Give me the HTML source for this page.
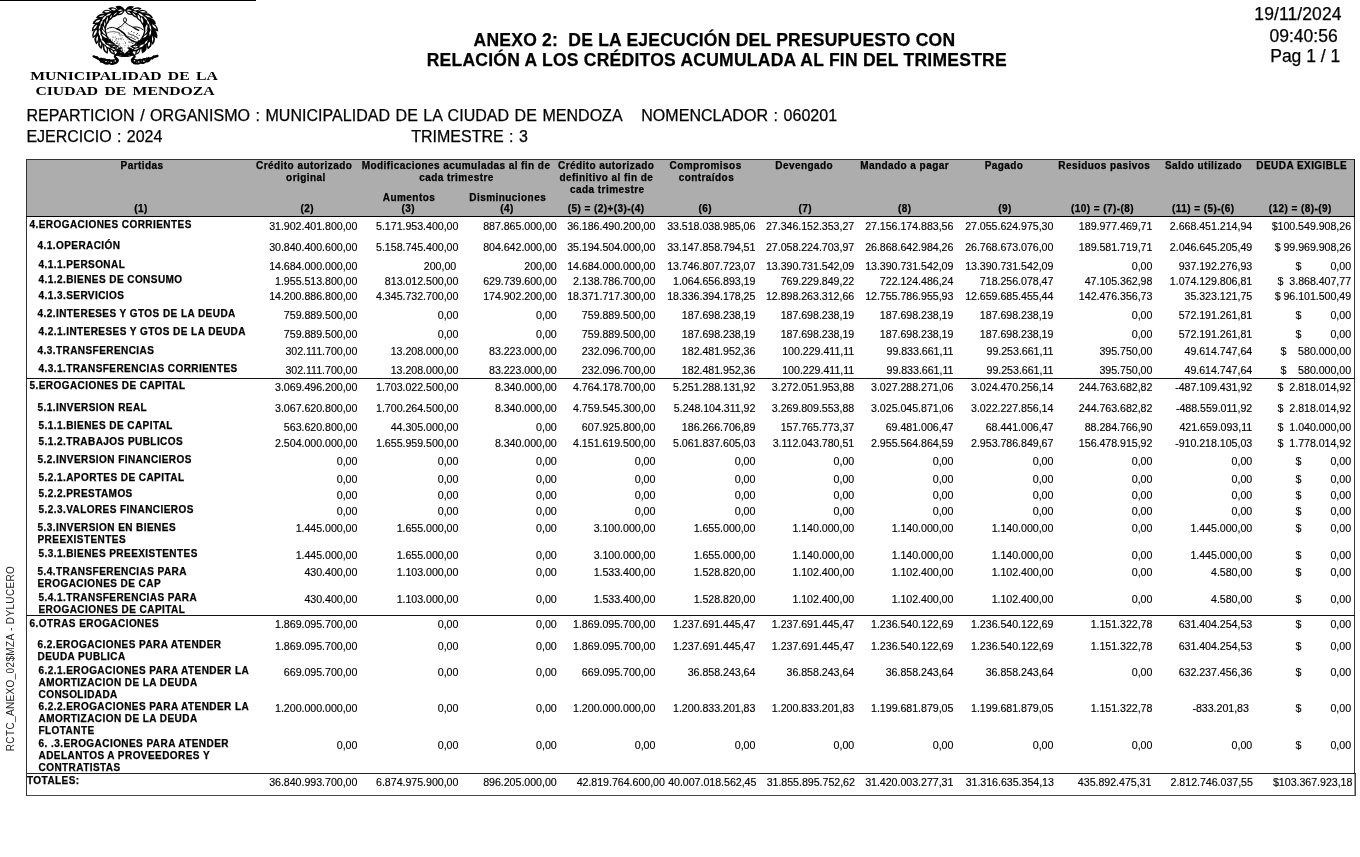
<!DOCTYPE html>
<html><head><meta charset="utf-8"><title>Anexo 2</title>
<style>
html,body{margin:0;padding:0;background:#fff;}
body{width:1360px;height:857px;position:relative;overflow:hidden;font-family:"Liberation Sans",sans-serif;color:#000;}
.t{position:absolute;white-space:pre;font-family:"Liberation Sans",sans-serif;font-weight:400;-webkit-text-stroke:0.25px #000;}
.b{font-weight:700;}
.s{font-family:"Liberation Serif",serif;}
.ln{position:absolute;background:#111;}
#pg{position:absolute;left:0;top:0;width:1360px;height:857px;will-change:transform;filter:grayscale(1);}
</style></head><body><div id="pg">
<div class="ln" style="left:0;top:0;width:256px;height:1px;background:#000"></div>
<div style="position:absolute;left:27px;top:160px;width:1327px;height:56px;background:#adadad"></div>
<div style="position:absolute;left:26px;top:159px;width:1329px;height:615px;border:1px solid #333;box-sizing:border-box;border-right-color:#3a3a3a"></div>
<div style="position:absolute;left:26px;top:773px;width:1330px;height:23px;border:1px solid #484848;border-top-color:#222;border-left-color:#333;box-sizing:border-box"></div>
<div style="position:absolute;left:1354px;top:774px;width:1px;height:21px;background:#999"></div>
<div style="position:absolute;left:1354px;top:159px;width:1px;height:58px;background:#111"></div>
<div class="ln" style="left:26px;top:216px;width:1329px;height:1px;background:#000"></div>
<div class="ln" style="left:26px;top:378px;width:1329px;height:1px"></div>
<div class="ln" style="left:26px;top:615px;width:1329px;height:1px"></div>
<div class="t" style="left:-90px;top:652px;width:200px;height:13px;line-height:13px;font-size:10px;letter-spacing:0.35px;-webkit-text-stroke:0;text-align:center;transform:rotate(-90deg);color:#222">RCTC_ANEXO_02$MZA - DYLUCERO</div>
<svg style="position:absolute;left:85px;top:0px" width="80" height="70" viewBox="85 0 80 70">
<path transform="translate(130.11 48.74) rotate(20.6)" d="M-3.27 0 Q0 -2.81 3.27 0 Q0 2.81 -3.27 0Z" fill="#000"/>
<path transform="translate(130.56 50.67) rotate(-9.5)" d="M-3.28 0 Q0 -2.78 3.28 0 Q0 2.78 -3.28 0Z" fill="#000"/>
<path transform="translate(131.00 52.60) rotate(-39.0)" d="M-3.08 0 Q0 -2.78 3.08 0 Q0 2.78 -3.08 0Z" fill="#000"/>
<path transform="translate(135.28 46.48) rotate(1.1)" d="M-5.20 0 Q0 -3.82 5.20 0 Q0 3.82 -5.20 0Z" fill="#000"/>
<path transform="translate(136.53 48.91) rotate(-21.1)" d="M-5.38 0 Q0 -4.28 5.38 0 Q0 4.28 -5.38 0Z" fill="#000"/>
<path transform="translate(137.78 51.34) rotate(-53.0)" d="M-4.61 0 Q0 -3.76 4.61 0 Q0 3.76 -4.61 0Z" fill="#000"/>
<path transform="translate(139.48 43.42) rotate(-12.2)" d="M-5.55 0 Q0 -4.56 5.55 0 Q0 4.56 -5.55 0Z" fill="#000"/>
<path transform="translate(141.78 46.02) rotate(-33.0)" d="M-5.94 0 Q0 -4.92 5.94 0 Q0 4.92 -5.94 0Z" fill="#000"/>
<path transform="translate(144.08 48.62) rotate(-66.9)" d="M-5.25 0 Q0 -4.92 5.25 0 Q0 4.92 -5.25 0Z" fill="#000"/>
<path transform="translate(142.84 40.05) rotate(-27.3)" d="M-5.99 0 Q0 -4.32 5.99 0 Q0 4.32 -5.99 0Z" fill="#000"/>
<path transform="translate(145.98 42.17) rotate(-51.1)" d="M-5.53 0 Q0 -5.26 5.53 0 Q0 5.26 -5.53 0Z" fill="#000"/>
<path transform="translate(149.11 44.30) rotate(-76.7)" d="M-5.36 0 Q0 -5.24 5.36 0 Q0 5.24 -5.36 0Z" fill="#000"/>
<path transform="translate(145.09 36.24) rotate(-40.4)" d="M-5.32 0 Q0 -5.00 5.32 0 Q0 5.00 -5.32 0Z" fill="#000"/>
<path transform="translate(148.87 37.61) rotate(-68.5)" d="M-5.62 0 Q0 -4.66 5.62 0 Q0 4.66 -5.62 0Z" fill="#000"/>
<path transform="translate(152.65 38.99) rotate(-91.2)" d="M-6.10 0 Q0 -4.75 6.10 0 Q0 4.75 -6.10 0Z" fill="#000"/>
<path transform="translate(146.17 32.22) rotate(-59.9)" d="M-6.40 0 Q0 -4.71 6.40 0 Q0 4.71 -6.40 0Z" fill="#000"/>
<path transform="translate(150.28 32.62) rotate(-81.8)" d="M-5.89 0 Q0 -4.74 5.89 0 Q0 4.74 -5.89 0Z" fill="#000"/>
<path transform="translate(154.38 33.03) rotate(-117.2)" d="M-6.24 0 Q0 -4.68 6.24 0 Q0 4.68 -6.24 0Z" fill="#000"/>
<path transform="translate(146.09 28.12) rotate(-78.4)" d="M-6.14 0 Q0 -4.71 6.14 0 Q0 4.71 -6.14 0Z" fill="#000"/>
<path transform="translate(150.11 27.51) rotate(-105.4)" d="M-5.87 0 Q0 -4.88 5.87 0 Q0 4.88 -5.87 0Z" fill="#000"/>
<path transform="translate(154.12 26.90) rotate(-133.2)" d="M-6.15 0 Q0 -5.06 6.15 0 Q0 5.06 -6.15 0Z" fill="#000"/>
<path transform="translate(144.83 24.08) rotate(-94.3)" d="M-6.04 0 Q0 -4.94 6.04 0 Q0 4.94 -6.04 0Z" fill="#000"/>
<path transform="translate(148.38 22.58) rotate(-120.5)" d="M-5.25 0 Q0 -4.37 5.25 0 Q0 4.37 -5.25 0Z" fill="#000"/>
<path transform="translate(151.93 21.08) rotate(-143.0)" d="M-5.16 0 Q0 -4.70 5.16 0 Q0 4.70 -5.16 0Z" fill="#000"/>
<path transform="translate(142.37 20.29) rotate(-106.3)" d="M-5.60 0 Q0 -4.83 5.60 0 Q0 4.83 -5.60 0Z" fill="#000"/>
<path transform="translate(145.20 18.15) rotate(-131.7)" d="M-5.96 0 Q0 -4.20 5.96 0 Q0 4.20 -5.96 0Z" fill="#000"/>
<path transform="translate(148.02 16.01) rotate(-158.5)" d="M-5.47 0 Q0 -4.87 5.47 0 Q0 4.87 -5.47 0Z" fill="#000"/>
<path transform="translate(138.79 16.95) rotate(-116.9)" d="M-5.36 0 Q0 -4.76 5.36 0 Q0 4.76 -5.36 0Z" fill="#000"/>
<path transform="translate(140.75 14.49) rotate(-146.0)" d="M-5.02 0 Q0 -4.48 5.02 0 Q0 4.48 -5.02 0Z" fill="#000"/>
<path transform="translate(142.72 12.02) rotate(-176.4)" d="M-5.03 0 Q0 -4.62 5.03 0 Q0 4.62 -5.03 0Z" fill="#000"/>
<path transform="translate(134.20 14.31) rotate(-137.3)" d="M-4.99 0 Q0 -4.14 4.99 0 Q0 4.14 -4.99 0Z" fill="#000"/>
<path transform="translate(135.32 11.82) rotate(-157.9)" d="M-4.37 0 Q0 -3.99 4.37 0 Q0 3.99 -4.37 0Z" fill="#000"/>
<path transform="translate(136.45 9.33) rotate(-188.1)" d="M-5.30 0 Q0 -4.01 5.30 0 Q0 4.01 -5.30 0Z" fill="#000"/>
<path transform="translate(128.84 12.59) rotate(-148.1)" d="M-4.50 0 Q0 -3.96 4.50 0 Q0 3.96 -4.50 0Z" fill="#000"/>
<path transform="translate(129.25 10.31) rotate(-175.9)" d="M-5.07 0 Q0 -3.73 5.07 0 Q0 3.73 -5.07 0Z" fill="#000"/>
<path transform="translate(129.65 8.04) rotate(-197.9)" d="M-4.61 0 Q0 -3.76 4.61 0 Q0 3.76 -4.61 0Z" fill="#000"/>
<path d="M130.6 50.7 Q121.8 54.4 128.3 55.8" stroke="#000" stroke-width="1.6" fill="none"/>
<path transform="translate(119.49 48.74) rotate(-201.1)" d="M-3.27 0 Q0 -2.54 3.27 0 Q0 2.54 -3.27 0Z" fill="#000"/>
<path transform="translate(119.04 50.67) rotate(-167.0)" d="M-3.57 0 Q0 -2.52 3.57 0 Q0 2.52 -3.57 0Z" fill="#000"/>
<path transform="translate(118.60 52.60) rotate(-136.0)" d="M-3.35 0 Q0 -2.67 3.35 0 Q0 2.67 -3.35 0Z" fill="#000"/>
<path transform="translate(114.32 46.48) rotate(-184.0)" d="M-4.37 0 Q0 -3.85 4.37 0 Q0 3.85 -4.37 0Z" fill="#000"/>
<path transform="translate(113.07 48.91) rotate(-155.9)" d="M-5.02 0 Q0 -4.11 5.02 0 Q0 4.11 -5.02 0Z" fill="#000"/>
<path transform="translate(111.82 51.34) rotate(-133.3)" d="M-4.86 0 Q0 -3.89 4.86 0 Q0 3.89 -4.86 0Z" fill="#000"/>
<path transform="translate(110.12 43.42) rotate(-169.1)" d="M-5.59 0 Q0 -4.62 5.59 0 Q0 4.62 -5.59 0Z" fill="#000"/>
<path transform="translate(107.82 46.02) rotate(-148.9)" d="M-5.87 0 Q0 -4.81 5.87 0 Q0 4.81 -5.87 0Z" fill="#000"/>
<path transform="translate(105.52 48.62) rotate(-109.2)" d="M-5.81 0 Q0 -4.88 5.81 0 Q0 4.88 -5.81 0Z" fill="#000"/>
<path transform="translate(106.76 40.05) rotate(-159.6)" d="M-5.74 0 Q0 -5.00 5.74 0 Q0 5.00 -5.74 0Z" fill="#000"/>
<path transform="translate(103.62 42.17) rotate(-129.7)" d="M-6.15 0 Q0 -5.25 6.15 0 Q0 5.25 -6.15 0Z" fill="#000"/>
<path transform="translate(100.49 44.30) rotate(-99.6)" d="M-5.06 0 Q0 -4.74 5.06 0 Q0 4.74 -5.06 0Z" fill="#000"/>
<path transform="translate(104.51 36.24) rotate(-142.2)" d="M-6.09 0 Q0 -4.62 6.09 0 Q0 4.62 -6.09 0Z" fill="#000"/>
<path transform="translate(100.73 37.61) rotate(-108.9)" d="M-6.14 0 Q0 -5.13 6.14 0 Q0 5.13 -6.14 0Z" fill="#000"/>
<path transform="translate(96.95 38.99) rotate(-82.6)" d="M-5.46 0 Q0 -5.17 5.46 0 Q0 5.17 -5.46 0Z" fill="#000"/>
<path transform="translate(103.43 32.22) rotate(-126.5)" d="M-6.22 0 Q0 -5.40 6.22 0 Q0 5.40 -6.22 0Z" fill="#000"/>
<path transform="translate(99.32 32.62) rotate(-95.7)" d="M-5.83 0 Q0 -5.00 5.83 0 Q0 5.00 -5.83 0Z" fill="#000"/>
<path transform="translate(95.22 33.03) rotate(-64.7)" d="M-5.86 0 Q0 -4.99 5.86 0 Q0 4.99 -5.86 0Z" fill="#000"/>
<path transform="translate(103.51 28.12) rotate(-109.8)" d="M-5.45 0 Q0 -4.93 5.45 0 Q0 4.93 -5.45 0Z" fill="#000"/>
<path transform="translate(99.49 27.51) rotate(-74.2)" d="M-5.36 0 Q0 -5.08 5.36 0 Q0 5.08 -5.36 0Z" fill="#000"/>
<path transform="translate(95.48 26.90) rotate(-51.0)" d="M-5.98 0 Q0 -4.78 5.98 0 Q0 4.78 -5.98 0Z" fill="#000"/>
<path transform="translate(104.77 24.08) rotate(-87.9)" d="M-5.30 0 Q0 -4.54 5.30 0 Q0 4.54 -5.30 0Z" fill="#000"/>
<path transform="translate(101.22 22.58) rotate(-60.6)" d="M-5.25 0 Q0 -4.96 5.25 0 Q0 4.96 -5.25 0Z" fill="#000"/>
<path transform="translate(97.67 21.08) rotate(-27.5)" d="M-5.90 0 Q0 -5.13 5.90 0 Q0 5.13 -5.90 0Z" fill="#000"/>
<path transform="translate(107.23 20.29) rotate(-75.8)" d="M-5.87 0 Q0 -4.31 5.87 0 Q0 4.31 -5.87 0Z" fill="#000"/>
<path transform="translate(104.40 18.15) rotate(-47.9)" d="M-5.75 0 Q0 -4.30 5.75 0 Q0 4.30 -5.75 0Z" fill="#000"/>
<path transform="translate(101.58 16.01) rotate(-16.6)" d="M-5.96 0 Q0 -4.29 5.96 0 Q0 4.29 -5.96 0Z" fill="#000"/>
<path transform="translate(110.81 16.95) rotate(-58.0)" d="M-4.71 0 Q0 -4.00 4.71 0 Q0 4.00 -4.71 0Z" fill="#000"/>
<path transform="translate(108.85 14.49) rotate(-27.5)" d="M-5.54 0 Q0 -4.84 5.54 0 Q0 4.84 -5.54 0Z" fill="#000"/>
<path transform="translate(106.88 12.02) rotate(-2.5)" d="M-4.96 0 Q0 -4.38 4.96 0 Q0 4.38 -4.96 0Z" fill="#000"/>
<path transform="translate(115.40 14.31) rotate(-43.1)" d="M-4.55 0 Q0 -4.12 4.55 0 Q0 4.12 -4.55 0Z" fill="#000"/>
<path transform="translate(114.28 11.82) rotate(-17.5)" d="M-5.30 0 Q0 -4.41 5.30 0 Q0 4.41 -5.30 0Z" fill="#000"/>
<path transform="translate(113.15 9.33) rotate(11.3)" d="M-5.02 0 Q0 -4.08 5.02 0 Q0 4.08 -5.02 0Z" fill="#000"/>
<path transform="translate(120.76 12.59) rotate(-30.3)" d="M-4.86 0 Q0 -4.12 4.86 0 Q0 4.12 -4.86 0Z" fill="#000"/>
<path transform="translate(120.35 10.31) rotate(-5.4)" d="M-4.88 0 Q0 -3.83 4.88 0 Q0 3.83 -4.88 0Z" fill="#000"/>
<path transform="translate(119.95 8.04) rotate(18.7)" d="M-4.76 0 Q0 -4.00 4.76 0 Q0 4.00 -4.76 0Z" fill="#000"/>
<path d="M119.0 50.7 Q127.8 54.4 121.3 55.8" stroke="#000" stroke-width="1.6" fill="none"/>
<path transform="translate(135.47 46.60) rotate(1.1)" d="M-2.63 0 Q0 -1.60 2.63 0 Q0 1.60 -2.63 0Z" fill="#fff"/>
<path transform="translate(136.24 48.93) rotate(-21.1)" d="M-2.73 0 Q0 -1.38 2.73 0 Q0 1.38 -2.73 0Z" fill="#fff"/>
<path transform="translate(137.99 51.35) rotate(-53.0)" d="M-2.72 0 Q0 -1.35 2.72 0 Q0 1.35 -2.72 0Z" fill="#fff"/>
<path transform="translate(141.62 45.89) rotate(-33.0)" d="M-3.03 0 Q0 -1.93 3.03 0 Q0 1.93 -3.03 0Z" fill="#fff"/>
<path transform="translate(146.06 42.34) rotate(-51.1)" d="M-2.97 0 Q0 -1.63 2.97 0 Q0 1.63 -2.97 0Z" fill="#fff"/>
<path transform="translate(148.96 44.06) rotate(-76.7)" d="M-2.73 0 Q0 -2.07 2.73 0 Q0 2.07 -2.73 0Z" fill="#fff"/>
<path transform="translate(145.23 36.02) rotate(-40.4)" d="M-3.14 0 Q0 -1.57 3.14 0 Q0 1.57 -3.14 0Z" fill="#fff"/>
<path transform="translate(152.59 39.20) rotate(-91.2)" d="M-3.60 0 Q0 -1.48 3.60 0 Q0 1.48 -3.60 0Z" fill="#fff"/>
<path transform="translate(146.07 32.10) rotate(-59.9)" d="M-3.26 0 Q0 -1.46 3.26 0 Q0 1.46 -3.26 0Z" fill="#fff"/>
<path transform="translate(150.25 32.90) rotate(-81.8)" d="M-3.34 0 Q0 -1.75 3.34 0 Q0 1.75 -3.34 0Z" fill="#fff"/>
<path transform="translate(146.36 27.93) rotate(-78.4)" d="M-3.89 0 Q0 -1.91 3.89 0 Q0 1.91 -3.89 0Z" fill="#fff"/>
<path transform="translate(150.39 27.35) rotate(-105.4)" d="M-3.51 0 Q0 -1.62 3.51 0 Q0 1.62 -3.51 0Z" fill="#fff"/>
<path transform="translate(154.26 26.64) rotate(-133.2)" d="M-3.27 0 Q0 -1.86 3.27 0 Q0 1.86 -3.27 0Z" fill="#fff"/>
<path transform="translate(148.12 22.39) rotate(-120.5)" d="M-2.89 0 Q0 -1.61 2.89 0 Q0 1.61 -2.89 0Z" fill="#fff"/>
<path transform="translate(142.09 20.01) rotate(-106.3)" d="M-3.51 0 Q0 -1.85 3.51 0 Q0 1.85 -3.51 0Z" fill="#fff"/>
<path transform="translate(145.33 18.04) rotate(-131.7)" d="M-3.81 0 Q0 -1.30 3.81 0 Q0 1.30 -3.81 0Z" fill="#fff"/>
<path transform="translate(148.14 16.18) rotate(-158.5)" d="M-3.43 0 Q0 -1.67 3.43 0 Q0 1.67 -3.43 0Z" fill="#fff"/>
<path transform="translate(138.96 17.17) rotate(-116.9)" d="M-3.11 0 Q0 -1.79 3.11 0 Q0 1.79 -3.11 0Z" fill="#fff"/>
<path transform="translate(140.84 14.78) rotate(-146.0)" d="M-3.13 0 Q0 -1.74 3.13 0 Q0 1.74 -3.13 0Z" fill="#fff"/>
<path transform="translate(142.92 11.78) rotate(-176.4)" d="M-3.04 0 Q0 -1.40 3.04 0 Q0 1.40 -3.04 0Z" fill="#fff"/>
<path transform="translate(134.20 14.38) rotate(-137.3)" d="M-3.14 0 Q0 -1.37 3.14 0 Q0 1.37 -3.14 0Z" fill="#fff"/>
<path transform="translate(135.13 12.06) rotate(-157.9)" d="M-2.59 0 Q0 -1.41 2.59 0 Q0 1.41 -2.59 0Z" fill="#fff"/>
<path transform="translate(136.40 9.52) rotate(-188.1)" d="M-3.33 0 Q0 -1.63 3.33 0 Q0 1.63 -3.33 0Z" fill="#fff"/>
<path transform="translate(128.84 12.79) rotate(-148.1)" d="M-2.78 0 Q0 -1.53 2.78 0 Q0 1.53 -2.78 0Z" fill="#fff"/>
<path transform="translate(129.11 10.14) rotate(-175.9)" d="M-2.83 0 Q0 -1.40 2.83 0 Q0 1.40 -2.83 0Z" fill="#fff"/>
<path transform="translate(114.52 46.33) rotate(-184.0)" d="M-2.27 0 Q0 -1.18 2.27 0 Q0 1.18 -2.27 0Z" fill="#fff"/>
<path transform="translate(113.25 49.19) rotate(-155.9)" d="M-2.99 0 Q0 -1.33 2.99 0 Q0 1.33 -2.99 0Z" fill="#fff"/>
<path transform="translate(111.95 51.14) rotate(-133.3)" d="M-2.61 0 Q0 -1.33 2.61 0 Q0 1.33 -2.61 0Z" fill="#fff"/>
<path transform="translate(110.06 43.59) rotate(-169.1)" d="M-3.51 0 Q0 -1.44 3.51 0 Q0 1.44 -3.51 0Z" fill="#fff"/>
<path transform="translate(107.90 46.26) rotate(-148.9)" d="M-3.24 0 Q0 -1.77 3.24 0 Q0 1.77 -3.24 0Z" fill="#fff"/>
<path transform="translate(105.61 48.44) rotate(-109.2)" d="M-3.49 0 Q0 -1.94 3.49 0 Q0 1.94 -3.49 0Z" fill="#fff"/>
<path transform="translate(103.51 42.42) rotate(-129.7)" d="M-3.81 0 Q0 -1.80 3.81 0 Q0 1.80 -3.81 0Z" fill="#fff"/>
<path transform="translate(100.48 44.02) rotate(-99.6)" d="M-3.10 0 Q0 -1.46 3.10 0 Q0 1.46 -3.10 0Z" fill="#fff"/>
<path transform="translate(104.30 36.03) rotate(-142.2)" d="M-3.49 0 Q0 -1.79 3.49 0 Q0 1.79 -3.49 0Z" fill="#fff"/>
<path transform="translate(101.00 37.37) rotate(-108.9)" d="M-3.26 0 Q0 -1.86 3.26 0 Q0 1.86 -3.26 0Z" fill="#fff"/>
<path transform="translate(97.15 39.02) rotate(-82.6)" d="M-2.97 0 Q0 -1.79 2.97 0 Q0 1.79 -2.97 0Z" fill="#fff"/>
<path transform="translate(103.71 32.23) rotate(-126.5)" d="M-3.61 0 Q0 -1.75 3.61 0 Q0 1.75 -3.61 0Z" fill="#fff"/>
<path transform="translate(99.61 32.63) rotate(-95.7)" d="M-3.24 0 Q0 -1.98 3.24 0 Q0 1.98 -3.24 0Z" fill="#fff"/>
<path transform="translate(95.24 32.98) rotate(-64.7)" d="M-3.72 0 Q0 -2.05 3.72 0 Q0 2.05 -3.72 0Z" fill="#fff"/>
<path transform="translate(103.69 28.36) rotate(-109.8)" d="M-3.09 0 Q0 -1.67 3.09 0 Q0 1.67 -3.09 0Z" fill="#fff"/>
<path transform="translate(99.66 27.22) rotate(-74.2)" d="M-2.82 0 Q0 -1.66 2.82 0 Q0 1.66 -2.82 0Z" fill="#fff"/>
<path transform="translate(95.24 27.04) rotate(-51.0)" d="M-3.09 0 Q0 -1.73 3.09 0 Q0 1.73 -3.09 0Z" fill="#fff"/>
<path transform="translate(104.69 24.03) rotate(-87.9)" d="M-3.04 0 Q0 -1.45 3.04 0 Q0 1.45 -3.04 0Z" fill="#fff"/>
<path transform="translate(101.43 22.65) rotate(-60.6)" d="M-3.25 0 Q0 -1.63 3.25 0 Q0 1.63 -3.25 0Z" fill="#fff"/>
<path transform="translate(97.56 21.34) rotate(-27.5)" d="M-3.13 0 Q0 -2.16 3.13 0 Q0 2.16 -3.13 0Z" fill="#fff"/>
<path transform="translate(107.09 20.05) rotate(-75.8)" d="M-3.62 0 Q0 -1.51 3.62 0 Q0 1.51 -3.62 0Z" fill="#fff"/>
<path transform="translate(104.11 17.97) rotate(-47.9)" d="M-3.43 0 Q0 -1.76 3.43 0 Q0 1.76 -3.43 0Z" fill="#fff"/>
<path transform="translate(101.58 16.12) rotate(-16.6)" d="M-3.14 0 Q0 -1.32 3.14 0 Q0 1.32 -3.14 0Z" fill="#fff"/>
<path transform="translate(110.85 16.74) rotate(-58.0)" d="M-2.48 0 Q0 -1.30 2.48 0 Q0 1.30 -2.48 0Z" fill="#fff"/>
<path transform="translate(108.58 14.76) rotate(-27.5)" d="M-3.13 0 Q0 -1.90 3.13 0 Q0 1.90 -3.13 0Z" fill="#fff"/>
<path transform="translate(106.95 11.73) rotate(-2.5)" d="M-2.97 0 Q0 -1.76 2.97 0 Q0 1.76 -2.97 0Z" fill="#fff"/>
<path transform="translate(115.22 14.11) rotate(-43.1)" d="M-2.60 0 Q0 -1.24 2.60 0 Q0 1.24 -2.60 0Z" fill="#fff"/>
<path transform="translate(113.44 9.52) rotate(11.3)" d="M-2.69 0 Q0 -1.67 2.69 0 Q0 1.67 -2.69 0Z" fill="#fff"/>
<path transform="translate(120.99 12.82) rotate(-30.3)" d="M-2.90 0 Q0 -1.61 2.90 0 Q0 1.61 -2.90 0Z" fill="#fff"/>
<path transform="translate(120.26 10.29) rotate(-5.4)" d="M-2.45 0 Q0 -1.31 2.45 0 Q0 1.31 -2.45 0Z" fill="#fff"/>

<g fill="none" stroke="#000" stroke-linecap="round" stroke-linejoin="round">
<ellipse cx="125" cy="19.9" rx="1.5" ry="2.2" stroke-width="0.95"/>
<path d="M125 22.3 Q122.5 26 116.8 28.8 Q114.5 27.6 112.5 27.4 Q109.5 27.2 107 29" stroke-width="0.95"/>
<path d="M125 22.3 Q128 25.2 133.2 27.3 Q135 26.8 137 27 Q140.5 27.6 143 29.6" stroke-width="0.95"/>
<path d="M116.8 28.8 Q119 29.5 121.5 31.5 Q124.5 33.2 126.5 36.8 Q129.5 39.5 133 41.2 Q136 42.8 138.5 42" stroke-width="1.5"/>
<path d="M133.2 27.3 Q135.3 29 138.8 30.4" stroke-width="1.2"/>
<path d="M127.5 36.2 Q131 37.2 135.5 39.6 M129 34 Q133 35 137.5 37.6" stroke-width="0.7"/>
<path d="M106 33.5 Q110 31.2 114 31.6 Q117.5 32 120 33.2" stroke-width="0.7" stroke="#333"/>
<path d="M109 41 Q111.3 42.6 112.2 45.2 M114.3 44 L115.6 48 M118 46.2 L119 50 M122 48 L122.5 51" stroke-width="0.8" stroke="#222"/>
</g>

<circle cx="119.8" cy="35.0" r="0.51" fill="#333"/><circle cx="113.6" cy="37.1" r="0.42" fill="#333"/><circle cx="138.4" cy="40.5" r="0.52" fill="#333"/><circle cx="138.0" cy="41.7" r="0.54" fill="#333"/><circle cx="124.4" cy="47.5" r="0.32" fill="#333"/><circle cx="128.3" cy="46.8" r="0.33" fill="#333"/><circle cx="124.7" cy="51.0" r="0.48" fill="#333"/><circle cx="108.1" cy="40.0" r="0.48" fill="#333"/><circle cx="138.4" cy="40.2" r="0.56" fill="#333"/><circle cx="136.5" cy="44.4" r="0.54" fill="#333"/><circle cx="140.5" cy="43.5" r="0.35" fill="#333"/><circle cx="117.9" cy="41.3" r="0.46" fill="#333"/><circle cx="121.7" cy="38.8" r="0.60" fill="#333"/><circle cx="114.0" cy="44.3" r="0.49" fill="#333"/><circle cx="118.8" cy="44.9" r="0.51" fill="#333"/><circle cx="116.4" cy="38.3" r="0.53" fill="#333"/><circle cx="124.2" cy="41.7" r="0.38" fill="#333"/><circle cx="131.3" cy="41.7" r="0.54" fill="#333"/><circle cx="112.4" cy="47.1" r="0.54" fill="#333"/><circle cx="140.9" cy="43.9" r="0.60" fill="#333"/><circle cx="139.3" cy="45.2" r="0.44" fill="#333"/><circle cx="108.2" cy="42.0" r="0.38" fill="#333"/><circle cx="108.5" cy="38.9" r="0.53" fill="#333"/><circle cx="108.3" cy="42.6" r="0.56" fill="#333"/><circle cx="120.2" cy="38.2" r="0.50" fill="#333"/><circle cx="117.4" cy="41.9" r="0.32" fill="#333"/><circle cx="118.9" cy="39.8" r="0.44" fill="#333"/><circle cx="119.1" cy="34.0" r="0.38" fill="#333"/><circle cx="115.2" cy="37.0" r="0.55" fill="#333"/><circle cx="108.1" cy="38.4" r="0.60" fill="#333"/><circle cx="124.0" cy="35.2" r="0.34" fill="#333"/><circle cx="136.6" cy="34.4" r="0.50" fill="#333"/><circle cx="119.2" cy="44.9" r="0.52" fill="#333"/><circle cx="112.8" cy="37.1" r="0.50" fill="#333"/><circle cx="125.0" cy="35.7" r="0.38" fill="#333"/><circle cx="140.9" cy="39.2" r="0.58" fill="#333"/><circle cx="128.9" cy="41.2" r="0.39" fill="#333"/><circle cx="112.8" cy="44.4" r="0.33" fill="#333"/><circle cx="120.4" cy="39.7" r="0.33" fill="#333"/><circle cx="119.2" cy="33.2" r="0.50" fill="#333"/><circle cx="116.6" cy="45.9" r="0.37" fill="#333"/><circle cx="116.7" cy="48.4" r="0.57" fill="#333"/><circle cx="130.1" cy="42.2" r="0.56" fill="#333"/><circle cx="114.2" cy="33.7" r="0.37" fill="#333"/><circle cx="117.1" cy="43.1" r="0.56" fill="#333"/><circle cx="115.5" cy="47.0" r="0.62" fill="#333"/><circle cx="119.1" cy="47.8" r="0.54" fill="#333"/><circle cx="134.6" cy="37.1" r="0.42" fill="#333"/><circle cx="137.8" cy="46.4" r="0.33" fill="#333"/><circle cx="135.9" cy="44.6" r="0.46" fill="#333"/><circle cx="121.1" cy="35.0" r="0.55" fill="#333"/><circle cx="131.8" cy="42.8" r="0.51" fill="#333"/><circle cx="133.0" cy="43.5" r="0.53" fill="#333"/><circle cx="121.7" cy="35.0" r="0.35" fill="#333"/><circle cx="115.7" cy="47.8" r="0.42" fill="#333"/><circle cx="135.4" cy="46.7" r="0.48" fill="#333"/><circle cx="139.2" cy="35.3" r="0.59" fill="#333"/><circle cx="110.7" cy="44.2" r="0.40" fill="#333"/><circle cx="120.4" cy="46.8" r="0.60" fill="#333"/><circle cx="131.5" cy="37.1" r="0.42" fill="#333"/><circle cx="118.0" cy="45.5" r="0.43" fill="#333"/><circle cx="119.1" cy="43.7" r="0.48" fill="#333"/><circle cx="128.4" cy="32.8" r="0.57" fill="#333"/><circle cx="118.2" cy="38.7" r="0.54" fill="#333"/><circle cx="131.4" cy="36.5" r="0.31" fill="#333"/><circle cx="112.3" cy="39.7" r="0.48" fill="#333"/><circle cx="138.2" cy="38.6" r="0.56" fill="#333"/><circle cx="136.4" cy="43.7" r="0.55" fill="#333"/><circle cx="129.0" cy="42.1" r="0.54" fill="#333"/><circle cx="128.8" cy="38.6" r="0.50" fill="#333"/><circle cx="133.9" cy="48.0" r="0.51" fill="#333"/><circle cx="125.0" cy="45.7" r="0.54" fill="#333"/><circle cx="110.1" cy="39.2" r="0.43" fill="#333"/><circle cx="116.0" cy="49.7" r="0.52" fill="#333"/><circle cx="112.3" cy="40.8" r="0.53" fill="#333"/><circle cx="111.7" cy="45.8" r="0.51" fill="#333"/><circle cx="134.0" cy="32.6" r="0.57" fill="#333"/><circle cx="137.5" cy="33.6" r="0.50" fill="#333"/><circle cx="110.6" cy="39.1" r="0.56" fill="#333"/><circle cx="115.1" cy="43.9" r="0.35" fill="#333"/><circle cx="119.9" cy="43.7" r="0.37" fill="#333"/><circle cx="116.6" cy="43.2" r="0.61" fill="#333"/><circle cx="133.6" cy="42.7" r="0.34" fill="#333"/><circle cx="115.8" cy="32.7" r="0.36" fill="#333"/><circle cx="135.4" cy="43.3" r="0.49" fill="#333"/><circle cx="127.5" cy="39.4" r="0.33" fill="#333"/><circle cx="128.0" cy="45.2" r="0.38" fill="#333"/><circle cx="122.1" cy="32.2" r="0.37" fill="#333"/><circle cx="128.4" cy="45.9" r="0.36" fill="#333"/><circle cx="125.2" cy="34.4" r="0.48" fill="#333"/><circle cx="129.6" cy="33.6" r="0.38" fill="#333"/><circle cx="137.2" cy="33.7" r="0.41" fill="#333"/><circle cx="108.9" cy="37.3" r="0.45" fill="#333"/><circle cx="125.5" cy="42.9" r="0.60" fill="#333"/><circle cx="128.1" cy="34.0" r="0.47" fill="#333"/><circle cx="115.9" cy="39.9" r="0.62" fill="#333"/><circle cx="120.3" cy="36.0" r="0.30" fill="#333"/><circle cx="114.6" cy="41.6" r="0.55" fill="#333"/><circle cx="121.8" cy="32.2" r="0.35" fill="#333"/><circle cx="130.1" cy="45.7" r="0.38" fill="#333"/><circle cx="133.1" cy="34.7" r="0.50" fill="#333"/><circle cx="133.6" cy="40.3" r="0.47" fill="#333"/><circle cx="133.5" cy="48.3" r="0.30" fill="#333"/><circle cx="131.6" cy="31.4" r="0.56" fill="#333"/><circle cx="132.5" cy="43.3" r="0.53" fill="#333"/><circle cx="134.5" cy="44.9" r="0.45" fill="#333"/><circle cx="137.3" cy="38.2" r="0.57" fill="#333"/><circle cx="119.8" cy="49.7" r="0.43" fill="#333"/><circle cx="129.2" cy="38.8" r="0.56" fill="#333"/><circle cx="128.0" cy="48.3" r="0.47" fill="#333"/><circle cx="133.3" cy="48.9" r="0.40" fill="#333"/><circle cx="123.1" cy="43.3" r="0.40" fill="#333"/><circle cx="110.7" cy="42.4" r="0.42" fill="#333"/><circle cx="122.7" cy="37.2" r="0.43" fill="#333"/><circle cx="108.6" cy="43.1" r="0.57" fill="#333"/><circle cx="123.7" cy="39.5" r="0.42" fill="#333"/><circle cx="122.7" cy="35.3" r="0.48" fill="#333"/><circle cx="125.3" cy="24.1" r="0.35" fill="#666"/><circle cx="133.9" cy="28.8" r="0.35" fill="#666"/><circle cx="121.3" cy="27.7" r="0.35" fill="#666"/><circle cx="122.6" cy="26.3" r="0.35" fill="#666"/><circle cx="126.6" cy="25.8" r="0.35" fill="#666"/><circle cx="123.4" cy="26.4" r="0.35" fill="#666"/><circle cx="128.7" cy="25.5" r="0.35" fill="#666"/><circle cx="121.2" cy="28.4" r="0.35" fill="#666"/><circle cx="123.3" cy="29.7" r="0.35" fill="#666"/><circle cx="127.0" cy="28.3" r="0.35" fill="#666"/><circle cx="123.3" cy="29.0" r="0.35" fill="#666"/><circle cx="119.5" cy="24.8" r="0.35" fill="#666"/><circle cx="119.5" cy="28.1" r="0.35" fill="#666"/><circle cx="129.3" cy="25.1" r="0.35" fill="#666"/>

<g fill="none" stroke="#000" stroke-linecap="round" stroke-linejoin="round">
<path d="M124.7 55.6 Q120.5 52.8 116.6 54.4 Q113.2 56.6 116.6 58.4 Q119.2 60.8 116 62.8 Q112.5 64.6 109.4 63 Q106.5 64.2 103.8 62.4 Q101.5 60.4 99.3 59.2 Q96.5 57.4 93.6 56.4" stroke-width="2.4"/>
<path d="M124.7 55.6 Q129 52.8 132.9 54.4 Q136.3 56.6 132.9 58.4 Q130.6 60.8 133.8 62.8 Q137.3 64.2 140.4 62.4 Q143.3 63.4 146 61.4 Q148.3 58.8 151.3 58.2 Q154.3 56.4 157.4 56" stroke-width="2.4"/>
<path d="M101 58.6 Q103 60 105 59.4 Q107 60.6 109 60 Q111 61.2 113.5 60.4" stroke-width="2.2"/>
<path d="M148.6 58 Q146.6 59.6 144.6 59 Q142.6 60.4 140.4 59.8 Q138.4 61 136 60.2" stroke-width="2.2"/>
<path d="M103 58.4 L100.8 62 M106.8 59.6 L105.8 63.4 M111 60.4 L111.4 64 M146.6 58 L148.6 61.4 M142.6 59.4 L143 63 M138.2 60 L137.8 63.6 M97 56.6 L98.5 59.4 M153.5 56 L152.5 59" stroke-width="1.3"/>
<path d="M117 54.9 Q121 57 124.7 55.9 Q128.5 57 132.5 54.9" stroke-width="1.5"/>
</g>
<g fill="none" stroke="#fff" stroke-linecap="round">
<path d="M116.2 56.4 Q117.2 57.5 118.6 57.8 M133.2 56.4 Q132.2 57.5 130.9 57.8 M110.5 62.4 Q112.5 63.2 114.6 62.2 M135.4 62.2 Q137.4 63 139.4 62 M103.6 60.8 L104.8 61.4 M145.2 60.4 L146 60 M107.6 61.6 L108.6 62 M141 61.2 L141.8 61" stroke-width="0.7"/>
</g>
<g fill="#000">
<ellipse cx="101.5" cy="60.6" rx="2.6" ry="2.0" transform="rotate(35 101.5 60.6)"/>
<ellipse cx="106.2" cy="61.8" rx="2.4" ry="2.0" transform="rotate(20 106.2 61.8)"/>
<ellipse cx="111" cy="62.2" rx="2.6" ry="2.1"/>
<ellipse cx="115.5" cy="61.2" rx="2.4" ry="2.2" transform="rotate(-30 115.5 61.2)"/>
<ellipse cx="148.2" cy="60.2" rx="2.6" ry="1.9" transform="rotate(-35 148.2 60.2)"/>
<ellipse cx="143.6" cy="61.4" rx="2.4" ry="1.9" transform="rotate(-20 143.6 61.4)"/>
<ellipse cx="138.8" cy="61.8" rx="2.6" ry="2.0"/>
<ellipse cx="134.3" cy="61" rx="2.3" ry="2.1" transform="rotate(30 134.3 61)"/>
</g>
<g fill="#fff">
<ellipse cx="106" cy="61.6" rx="0.9" ry="0.6"/><ellipse cx="111.2" cy="62.3" rx="1.0" ry="0.6"/><ellipse cx="115.3" cy="61" rx="0.8" ry="0.7"/>
<ellipse cx="143.8" cy="61.2" rx="0.9" ry="0.6"/><ellipse cx="138.6" cy="61.9" rx="1.0" ry="0.6"/><ellipse cx="134.5" cy="60.8" rx="0.8" ry="0.7"/>
</g>
<rect x="123.3" y="54.3" width="2.8" height="2.6" fill="#000"/>

</svg>
<div class="t b" style="top:30px;font-size:17.5px;line-height:21px;left:473.60px;letter-spacing:0.232px;">ANEXO 2:  DE LA EJECUCIÓN DEL PRESUPUESTO CON</div>
<div class="t b" style="top:50px;font-size:17.5px;line-height:21px;left:426.70px;letter-spacing:0.255px;">RELACIÓN A LOS CRÉDITOS ACUMULADA AL FIN DEL TRIMESTRE</div>
<div class="t" style="top:4px;font-size:17.5px;line-height:21px;right:18.40px;letter-spacing:0.1px;">19/11/2024</div>
<div class="t" style="top:26px;font-size:17.5px;line-height:21px;right:22.27px;letter-spacing:0.025px;">09:40:56</div>
<div class="t" style="top:46px;font-size:17.5px;line-height:21px;right:19.81px;letter-spacing:-0.008px;">Pag 1 / 1</div>
<div class="t" style="top:106px;font-size:16px;line-height:19px;left:26.40px;letter-spacing:0.036px;word-spacing:1.0px;">REPARTICION / ORGANISMO : MUNICIPALIDAD DE LA CIUDAD DE MENDOZA</div>
<div class="t" style="top:106px;font-size:16px;line-height:19px;left:641.20px;letter-spacing:0.054px;word-spacing:1.0px;">NOMENCLADOR : 060201</div>
<div class="t" style="top:127px;font-size:16px;line-height:19px;left:26.40px;letter-spacing:-0.019px;word-spacing:1.0px;">EJERCICIO : 2024</div>
<div class="t" style="top:127px;font-size:16px;line-height:19px;left:411.30px;letter-spacing:-0.016px;word-spacing:1.0px;">TRIMESTRE : 3</div>
<div class="t b s" style="top:68px;font-size:13.2px;line-height:16px;left:-75.70px;width:400px;text-align:center;word-spacing:2px;transform:scaleX(1.19);-webkit-text-stroke:0;">MUNICIPALIDAD DE LA</div>
<div class="t b s" style="top:83px;font-size:13.2px;line-height:16px;left:-75.20px;width:400px;text-align:center;word-spacing:2px;transform:scaleX(1.19);-webkit-text-stroke:0;">CIUDAD DE MENDOZA</div>
<div class="t b" style="top:160px;font-size:10.0px;line-height:12px;left:-57.98px;width:400px;text-align:center;letter-spacing:0.44px;">Partidas</div>
<div class="t b" style="top:203px;font-size:10.0px;line-height:12px;left:-58.98px;width:400px;text-align:center;letter-spacing:0.44px;">(1)</div>
<div class="t b" style="top:160px;font-size:10.0px;line-height:12px;left:104.22px;width:400px;text-align:center;letter-spacing:0.44px;">Crédito autorizado</div>
<div class="t b" style="top:172px;font-size:10.0px;line-height:12px;left:105.92px;width:400px;text-align:center;letter-spacing:0.44px;">original</div>
<div class="t b" style="top:203px;font-size:10.0px;line-height:12px;left:107.22px;width:400px;text-align:center;letter-spacing:0.44px;">(2)</div>
<div class="t b" style="top:160px;font-size:10.0px;line-height:12px;left:256.02px;width:400px;text-align:center;letter-spacing:0.44px;">Modificaciones acumuladas al fin de</div>
<div class="t b" style="top:172px;font-size:10.0px;line-height:12px;left:256.52px;width:400px;text-align:center;letter-spacing:0.44px;">cada trimestre</div>
<div class="t b" style="top:192px;font-size:10.0px;line-height:12px;left:209.02px;width:400px;text-align:center;letter-spacing:0.44px;">Aumentos</div>
<div class="t b" style="top:203px;font-size:10.0px;line-height:12px;left:208.22px;width:400px;text-align:center;letter-spacing:0.44px;">(3)</div>
<div class="t b" style="top:192px;font-size:10.0px;line-height:12px;left:307.72px;width:400px;text-align:center;letter-spacing:0.44px;">Disminuciones</div>
<div class="t b" style="top:203px;font-size:10.0px;line-height:12px;left:307.02px;width:400px;text-align:center;letter-spacing:0.44px;">(4)</div>
<div class="t b" style="top:160px;font-size:10.0px;line-height:12px;left:406.12px;width:400px;text-align:center;letter-spacing:0.44px;">Crédito autorizado</div>
<div class="t b" style="top:172px;font-size:10.0px;line-height:12px;left:406.32px;width:400px;text-align:center;letter-spacing:0.44px;">definitivo al fin de</div>
<div class="t b" style="top:184px;font-size:10.0px;line-height:12px;left:407.32px;width:400px;text-align:center;letter-spacing:0.44px;">cada trimestre</div>
<div class="t b" style="top:203px;font-size:10.0px;line-height:12px;left:406.12px;width:400px;text-align:center;letter-spacing:0.44px;">(5) = (2)+(3)-(4)</div>
<div class="t b" style="top:160px;font-size:10.0px;line-height:12px;left:505.62px;width:400px;text-align:center;letter-spacing:0.44px;">Compromisos</div>
<div class="t b" style="top:172px;font-size:10.0px;line-height:12px;left:506.42px;width:400px;text-align:center;letter-spacing:0.44px;">contraídos</div>
<div class="t b" style="top:203px;font-size:10.0px;line-height:12px;left:505.22px;width:400px;text-align:center;letter-spacing:0.44px;">(6)</div>
<div class="t b" style="top:160px;font-size:10.0px;line-height:12px;left:604.22px;width:400px;text-align:center;letter-spacing:0.44px;">Devengado</div>
<div class="t b" style="top:203px;font-size:10.0px;line-height:12px;left:605.22px;width:400px;text-align:center;letter-spacing:0.44px;">(7)</div>
<div class="t b" style="top:160px;font-size:10.0px;line-height:12px;left:704.62px;width:400px;text-align:center;letter-spacing:0.44px;">Mandado a pagar</div>
<div class="t b" style="top:203px;font-size:10.0px;line-height:12px;left:704.72px;width:400px;text-align:center;letter-spacing:0.44px;">(8)</div>
<div class="t b" style="top:160px;font-size:10.0px;line-height:12px;left:804.02px;width:400px;text-align:center;letter-spacing:0.44px;">Pagado</div>
<div class="t b" style="top:203px;font-size:10.0px;line-height:12px;left:805.02px;width:400px;text-align:center;letter-spacing:0.44px;">(9)</div>
<div class="t b" style="top:160px;font-size:10.0px;line-height:12px;left:904.32px;width:400px;text-align:center;letter-spacing:0.44px;">Residuos pasivos</div>
<div class="t b" style="top:203px;font-size:10.0px;line-height:12px;left:902.52px;width:400px;text-align:center;letter-spacing:0.44px;">(10) = (7)-(8)</div>
<div class="t b" style="top:160px;font-size:10.0px;line-height:12px;left:1003.52px;width:400px;text-align:center;letter-spacing:0.44px;">Saldo utilizado</div>
<div class="t b" style="top:203px;font-size:10.0px;line-height:12px;left:1003.22px;width:400px;text-align:center;letter-spacing:0.44px;">(11) = (5)-(6)</div>
<div class="t b" style="top:160px;font-size:10.0px;line-height:12px;left:1101.72px;width:400px;text-align:center;letter-spacing:0.44px;">DEUDA EXIGIBLE</div>
<div class="t b" style="top:203px;font-size:10.0px;line-height:12px;left:1100.22px;width:400px;text-align:center;letter-spacing:0.44px;">(12) = (8)-(9)</div>
<div class="t b" style="top:219px;font-size:10.0px;line-height:12px;left:29.50px;letter-spacing:0.44px;">4.EROGACIONES CORRIENTES</div>
<div class="t" style="top:220px;font-size:10.67px;line-height:13px;right:1002.64px;letter-spacing:-0.04px;-webkit-text-stroke:0.15px #000;">31.902.401.800,00</div>
<div class="t" style="top:220px;font-size:10.67px;line-height:13px;right:901.64px;letter-spacing:-0.04px;-webkit-text-stroke:0.15px #000;">5.171.953.400,00</div>
<div class="t" style="top:220px;font-size:10.67px;line-height:13px;right:803.34px;letter-spacing:-0.04px;-webkit-text-stroke:0.15px #000;">887.865.000,00</div>
<div class="t" style="top:220px;font-size:10.67px;line-height:13px;right:704.64px;letter-spacing:-0.04px;-webkit-text-stroke:0.15px #000;">36.186.490.200,00</div>
<div class="t" style="top:220px;font-size:10.67px;line-height:13px;right:604.64px;letter-spacing:-0.04px;-webkit-text-stroke:0.15px #000;">33.518.038.985,06</div>
<div class="t" style="top:220px;font-size:10.67px;line-height:13px;right:505.84px;letter-spacing:-0.04px;-webkit-text-stroke:0.15px #000;">27.346.152.353,27</div>
<div class="t" style="top:220px;font-size:10.67px;line-height:13px;right:406.64px;letter-spacing:-0.04px;-webkit-text-stroke:0.15px #000;">27.156.174.883,56</div>
<div class="t" style="top:220px;font-size:10.67px;line-height:13px;right:306.64px;letter-spacing:-0.04px;-webkit-text-stroke:0.15px #000;">27.055.624.975,30</div>
<div class="t" style="top:220px;font-size:10.67px;line-height:13px;right:207.64px;letter-spacing:-0.04px;-webkit-text-stroke:0.15px #000;">189.977.469,71</div>
<div class="t" style="top:220px;font-size:10.67px;line-height:13px;right:107.84px;letter-spacing:-0.04px;-webkit-text-stroke:0.15px #000;">2.668.451.214,94</div>
<div class="t" style="top:220px;font-size:10.67px;line-height:13px;right:8.94px;letter-spacing:-0.04px;-webkit-text-stroke:0.15px #000;">$100.549.908,26</div>
<div class="t b" style="top:240px;font-size:10.0px;line-height:12px;left:37.50px;letter-spacing:0.44px;">4.1.OPERACIÓN</div>
<div class="t" style="top:241px;font-size:10.67px;line-height:13px;right:1002.64px;letter-spacing:-0.04px;-webkit-text-stroke:0.15px #000;">30.840.400.600,00</div>
<div class="t" style="top:241px;font-size:10.67px;line-height:13px;right:901.64px;letter-spacing:-0.04px;-webkit-text-stroke:0.15px #000;">5.158.745.400,00</div>
<div class="t" style="top:241px;font-size:10.67px;line-height:13px;right:803.34px;letter-spacing:-0.04px;-webkit-text-stroke:0.15px #000;">804.642.000,00</div>
<div class="t" style="top:241px;font-size:10.67px;line-height:13px;right:704.64px;letter-spacing:-0.04px;-webkit-text-stroke:0.15px #000;">35.194.504.000,00</div>
<div class="t" style="top:241px;font-size:10.67px;line-height:13px;right:604.64px;letter-spacing:-0.04px;-webkit-text-stroke:0.15px #000;">33.147.858.794,51</div>
<div class="t" style="top:241px;font-size:10.67px;line-height:13px;right:505.84px;letter-spacing:-0.04px;-webkit-text-stroke:0.15px #000;">27.058.224.703,97</div>
<div class="t" style="top:241px;font-size:10.67px;line-height:13px;right:406.64px;letter-spacing:-0.04px;-webkit-text-stroke:0.15px #000;">26.868.642.984,26</div>
<div class="t" style="top:241px;font-size:10.67px;line-height:13px;right:306.64px;letter-spacing:-0.04px;-webkit-text-stroke:0.15px #000;">26.768.673.076,00</div>
<div class="t" style="top:241px;font-size:10.67px;line-height:13px;right:207.64px;letter-spacing:-0.04px;-webkit-text-stroke:0.15px #000;">189.581.719,71</div>
<div class="t" style="top:241px;font-size:10.67px;line-height:13px;right:107.84px;letter-spacing:-0.04px;-webkit-text-stroke:0.15px #000;">2.046.645.205,49</div>
<div class="t" style="top:241px;font-size:10.67px;line-height:13px;right:8.94px;letter-spacing:-0.04px;-webkit-text-stroke:0.15px #000;">$ 99.969.908,26</div>
<div class="t b" style="top:259px;font-size:10.0px;line-height:12px;left:38.50px;letter-spacing:0.44px;">4.1.1.PERSONAL</div>
<div class="t" style="top:260px;font-size:10.67px;line-height:13px;right:1002.64px;letter-spacing:-0.04px;-webkit-text-stroke:0.15px #000;">14.684.000.000,00</div>
<div class="t" style="top:260px;font-size:10.67px;line-height:13px;right:903.84px;letter-spacing:-0.04px;-webkit-text-stroke:0.15px #000;">200,00</div>
<div class="t" style="top:260px;font-size:10.67px;line-height:13px;right:803.34px;letter-spacing:-0.04px;-webkit-text-stroke:0.15px #000;">200,00</div>
<div class="t" style="top:260px;font-size:10.67px;line-height:13px;right:704.64px;letter-spacing:-0.04px;-webkit-text-stroke:0.15px #000;">14.684.000.000,00</div>
<div class="t" style="top:260px;font-size:10.67px;line-height:13px;right:604.64px;letter-spacing:-0.04px;-webkit-text-stroke:0.15px #000;">13.746.807.723,07</div>
<div class="t" style="top:260px;font-size:10.67px;line-height:13px;right:505.84px;letter-spacing:-0.04px;-webkit-text-stroke:0.15px #000;">13.390.731.542,09</div>
<div class="t" style="top:260px;font-size:10.67px;line-height:13px;right:406.64px;letter-spacing:-0.04px;-webkit-text-stroke:0.15px #000;">13.390.731.542,09</div>
<div class="t" style="top:260px;font-size:10.67px;line-height:13px;right:306.64px;letter-spacing:-0.04px;-webkit-text-stroke:0.15px #000;">13.390.731.542,09</div>
<div class="t" style="top:260px;font-size:10.67px;line-height:13px;right:207.64px;letter-spacing:-0.04px;-webkit-text-stroke:0.15px #000;">0,00</div>
<div class="t" style="top:260px;font-size:10.67px;line-height:13px;right:107.84px;letter-spacing:-0.04px;-webkit-text-stroke:0.15px #000;">937.192.276,93</div>
<div class="t" style="top:260px;font-size:10.67px;line-height:13px;right:8.94px;letter-spacing:-0.04px;-webkit-text-stroke:0.15px #000;">$          0,00</div>
<div class="t b" style="top:274px;font-size:10.0px;line-height:12px;left:38.50px;letter-spacing:0.44px;">4.1.2.BIENES DE CONSUMO</div>
<div class="t" style="top:275px;font-size:10.67px;line-height:13px;right:1002.64px;letter-spacing:-0.04px;-webkit-text-stroke:0.15px #000;">1.955.513.800,00</div>
<div class="t" style="top:275px;font-size:10.67px;line-height:13px;right:901.64px;letter-spacing:-0.04px;-webkit-text-stroke:0.15px #000;">813.012.500,00</div>
<div class="t" style="top:275px;font-size:10.67px;line-height:13px;right:803.34px;letter-spacing:-0.04px;-webkit-text-stroke:0.15px #000;">629.739.600,00</div>
<div class="t" style="top:275px;font-size:10.67px;line-height:13px;right:704.64px;letter-spacing:-0.04px;-webkit-text-stroke:0.15px #000;">2.138.786.700,00</div>
<div class="t" style="top:275px;font-size:10.67px;line-height:13px;right:604.64px;letter-spacing:-0.04px;-webkit-text-stroke:0.15px #000;">1.064.656.893,19</div>
<div class="t" style="top:275px;font-size:10.67px;line-height:13px;right:505.84px;letter-spacing:-0.04px;-webkit-text-stroke:0.15px #000;">769.229.849,22</div>
<div class="t" style="top:275px;font-size:10.67px;line-height:13px;right:406.64px;letter-spacing:-0.04px;-webkit-text-stroke:0.15px #000;">722.124.486,24</div>
<div class="t" style="top:275px;font-size:10.67px;line-height:13px;right:306.64px;letter-spacing:-0.04px;-webkit-text-stroke:0.15px #000;">718.256.078,47</div>
<div class="t" style="top:275px;font-size:10.67px;line-height:13px;right:207.64px;letter-spacing:-0.04px;-webkit-text-stroke:0.15px #000;">47.105.362,98</div>
<div class="t" style="top:275px;font-size:10.67px;line-height:13px;right:107.84px;letter-spacing:-0.04px;-webkit-text-stroke:0.15px #000;">1.074.129.806,81</div>
<div class="t" style="top:275px;font-size:10.67px;line-height:13px;right:8.94px;letter-spacing:-0.04px;-webkit-text-stroke:0.15px #000;">$  3.868.407,77</div>
<div class="t b" style="top:290px;font-size:10.0px;line-height:12px;left:38.50px;letter-spacing:0.44px;">4.1.3.SERVICIOS</div>
<div class="t" style="top:290px;font-size:10.67px;line-height:13px;right:1002.64px;letter-spacing:-0.04px;-webkit-text-stroke:0.15px #000;">14.200.886.800,00</div>
<div class="t" style="top:290px;font-size:10.67px;line-height:13px;right:901.64px;letter-spacing:-0.04px;-webkit-text-stroke:0.15px #000;">4.345.732.700,00</div>
<div class="t" style="top:290px;font-size:10.67px;line-height:13px;right:803.34px;letter-spacing:-0.04px;-webkit-text-stroke:0.15px #000;">174.902.200,00</div>
<div class="t" style="top:290px;font-size:10.67px;line-height:13px;right:704.64px;letter-spacing:-0.04px;-webkit-text-stroke:0.15px #000;">18.371.717.300,00</div>
<div class="t" style="top:290px;font-size:10.67px;line-height:13px;right:604.64px;letter-spacing:-0.04px;-webkit-text-stroke:0.15px #000;">18.336.394.178,25</div>
<div class="t" style="top:290px;font-size:10.67px;line-height:13px;right:505.84px;letter-spacing:-0.04px;-webkit-text-stroke:0.15px #000;">12.898.263.312,66</div>
<div class="t" style="top:290px;font-size:10.67px;line-height:13px;right:406.64px;letter-spacing:-0.04px;-webkit-text-stroke:0.15px #000;">12.755.786.955,93</div>
<div class="t" style="top:290px;font-size:10.67px;line-height:13px;right:306.64px;letter-spacing:-0.04px;-webkit-text-stroke:0.15px #000;">12.659.685.455,44</div>
<div class="t" style="top:290px;font-size:10.67px;line-height:13px;right:207.64px;letter-spacing:-0.04px;-webkit-text-stroke:0.15px #000;">142.476.356,73</div>
<div class="t" style="top:290px;font-size:10.67px;line-height:13px;right:107.84px;letter-spacing:-0.04px;-webkit-text-stroke:0.15px #000;">35.323.121,75</div>
<div class="t" style="top:290px;font-size:10.67px;line-height:13px;right:8.94px;letter-spacing:-0.04px;-webkit-text-stroke:0.15px #000;">$ 96.101.500,49</div>
<div class="t b" style="top:308px;font-size:10.0px;line-height:12px;left:37.50px;letter-spacing:0.44px;">4.2.INTERESES Y GTOS DE LA DEUDA</div>
<div class="t" style="top:309px;font-size:10.67px;line-height:13px;right:1002.64px;letter-spacing:-0.04px;-webkit-text-stroke:0.15px #000;">759.889.500,00</div>
<div class="t" style="top:309px;font-size:10.67px;line-height:13px;right:901.64px;letter-spacing:-0.04px;-webkit-text-stroke:0.15px #000;">0,00</div>
<div class="t" style="top:309px;font-size:10.67px;line-height:13px;right:803.34px;letter-spacing:-0.04px;-webkit-text-stroke:0.15px #000;">0,00</div>
<div class="t" style="top:309px;font-size:10.67px;line-height:13px;right:704.64px;letter-spacing:-0.04px;-webkit-text-stroke:0.15px #000;">759.889.500,00</div>
<div class="t" style="top:309px;font-size:10.67px;line-height:13px;right:604.64px;letter-spacing:-0.04px;-webkit-text-stroke:0.15px #000;">187.698.238,19</div>
<div class="t" style="top:309px;font-size:10.67px;line-height:13px;right:505.84px;letter-spacing:-0.04px;-webkit-text-stroke:0.15px #000;">187.698.238,19</div>
<div class="t" style="top:309px;font-size:10.67px;line-height:13px;right:406.64px;letter-spacing:-0.04px;-webkit-text-stroke:0.15px #000;">187.698.238,19</div>
<div class="t" style="top:309px;font-size:10.67px;line-height:13px;right:306.64px;letter-spacing:-0.04px;-webkit-text-stroke:0.15px #000;">187.698.238,19</div>
<div class="t" style="top:309px;font-size:10.67px;line-height:13px;right:207.64px;letter-spacing:-0.04px;-webkit-text-stroke:0.15px #000;">0,00</div>
<div class="t" style="top:309px;font-size:10.67px;line-height:13px;right:107.84px;letter-spacing:-0.04px;-webkit-text-stroke:0.15px #000;">572.191.261,81</div>
<div class="t" style="top:309px;font-size:10.67px;line-height:13px;right:8.94px;letter-spacing:-0.04px;-webkit-text-stroke:0.15px #000;">$          0,00</div>
<div class="t b" style="top:326px;font-size:10.0px;line-height:12px;left:38.50px;letter-spacing:0.44px;">4.2.1.INTERESES Y GTOS DE LA DEUDA</div>
<div class="t" style="top:328px;font-size:10.67px;line-height:13px;right:1002.64px;letter-spacing:-0.04px;-webkit-text-stroke:0.15px #000;">759.889.500,00</div>
<div class="t" style="top:328px;font-size:10.67px;line-height:13px;right:901.64px;letter-spacing:-0.04px;-webkit-text-stroke:0.15px #000;">0,00</div>
<div class="t" style="top:328px;font-size:10.67px;line-height:13px;right:803.34px;letter-spacing:-0.04px;-webkit-text-stroke:0.15px #000;">0,00</div>
<div class="t" style="top:328px;font-size:10.67px;line-height:13px;right:704.64px;letter-spacing:-0.04px;-webkit-text-stroke:0.15px #000;">759.889.500,00</div>
<div class="t" style="top:328px;font-size:10.67px;line-height:13px;right:604.64px;letter-spacing:-0.04px;-webkit-text-stroke:0.15px #000;">187.698.238,19</div>
<div class="t" style="top:328px;font-size:10.67px;line-height:13px;right:505.84px;letter-spacing:-0.04px;-webkit-text-stroke:0.15px #000;">187.698.238,19</div>
<div class="t" style="top:328px;font-size:10.67px;line-height:13px;right:406.64px;letter-spacing:-0.04px;-webkit-text-stroke:0.15px #000;">187.698.238,19</div>
<div class="t" style="top:328px;font-size:10.67px;line-height:13px;right:306.64px;letter-spacing:-0.04px;-webkit-text-stroke:0.15px #000;">187.698.238,19</div>
<div class="t" style="top:328px;font-size:10.67px;line-height:13px;right:207.64px;letter-spacing:-0.04px;-webkit-text-stroke:0.15px #000;">0,00</div>
<div class="t" style="top:328px;font-size:10.67px;line-height:13px;right:107.84px;letter-spacing:-0.04px;-webkit-text-stroke:0.15px #000;">572.191.261,81</div>
<div class="t" style="top:328px;font-size:10.67px;line-height:13px;right:8.94px;letter-spacing:-0.04px;-webkit-text-stroke:0.15px #000;">$          0,00</div>
<div class="t b" style="top:345px;font-size:10.0px;line-height:12px;left:37.50px;letter-spacing:0.44px;">4.3.TRANSFERENCIAS</div>
<div class="t" style="top:345px;font-size:10.67px;line-height:13px;right:1002.64px;letter-spacing:-0.04px;-webkit-text-stroke:0.15px #000;">302.111.700,00</div>
<div class="t" style="top:345px;font-size:10.67px;line-height:13px;right:901.64px;letter-spacing:-0.04px;-webkit-text-stroke:0.15px #000;">13.208.000,00</div>
<div class="t" style="top:345px;font-size:10.67px;line-height:13px;right:803.34px;letter-spacing:-0.04px;-webkit-text-stroke:0.15px #000;">83.223.000,00</div>
<div class="t" style="top:345px;font-size:10.67px;line-height:13px;right:704.64px;letter-spacing:-0.04px;-webkit-text-stroke:0.15px #000;">232.096.700,00</div>
<div class="t" style="top:345px;font-size:10.67px;line-height:13px;right:604.64px;letter-spacing:-0.04px;-webkit-text-stroke:0.15px #000;">182.481.952,36</div>
<div class="t" style="top:345px;font-size:10.67px;line-height:13px;right:505.84px;letter-spacing:-0.04px;-webkit-text-stroke:0.15px #000;">100.229.411,11</div>
<div class="t" style="top:345px;font-size:10.67px;line-height:13px;right:406.64px;letter-spacing:-0.04px;-webkit-text-stroke:0.15px #000;">99.833.661,11</div>
<div class="t" style="top:345px;font-size:10.67px;line-height:13px;right:306.64px;letter-spacing:-0.04px;-webkit-text-stroke:0.15px #000;">99.253.661,11</div>
<div class="t" style="top:345px;font-size:10.67px;line-height:13px;right:207.64px;letter-spacing:-0.04px;-webkit-text-stroke:0.15px #000;">395.750,00</div>
<div class="t" style="top:345px;font-size:10.67px;line-height:13px;right:107.84px;letter-spacing:-0.04px;-webkit-text-stroke:0.15px #000;">49.614.747,64</div>
<div class="t" style="top:345px;font-size:10.67px;line-height:13px;right:8.94px;letter-spacing:-0.04px;-webkit-text-stroke:0.15px #000;">$    580.000,00</div>
<div class="t b" style="top:363px;font-size:10.0px;line-height:12px;left:38.50px;letter-spacing:0.44px;">4.3.1.TRANSFERENCIAS CORRIENTES</div>
<div class="t" style="top:364px;font-size:10.67px;line-height:13px;right:1002.64px;letter-spacing:-0.04px;-webkit-text-stroke:0.15px #000;">302.111.700,00</div>
<div class="t" style="top:364px;font-size:10.67px;line-height:13px;right:901.64px;letter-spacing:-0.04px;-webkit-text-stroke:0.15px #000;">13.208.000,00</div>
<div class="t" style="top:364px;font-size:10.67px;line-height:13px;right:803.34px;letter-spacing:-0.04px;-webkit-text-stroke:0.15px #000;">83.223.000,00</div>
<div class="t" style="top:364px;font-size:10.67px;line-height:13px;right:704.64px;letter-spacing:-0.04px;-webkit-text-stroke:0.15px #000;">232.096.700,00</div>
<div class="t" style="top:364px;font-size:10.67px;line-height:13px;right:604.64px;letter-spacing:-0.04px;-webkit-text-stroke:0.15px #000;">182.481.952,36</div>
<div class="t" style="top:364px;font-size:10.67px;line-height:13px;right:505.84px;letter-spacing:-0.04px;-webkit-text-stroke:0.15px #000;">100.229.411,11</div>
<div class="t" style="top:364px;font-size:10.67px;line-height:13px;right:406.64px;letter-spacing:-0.04px;-webkit-text-stroke:0.15px #000;">99.833.661,11</div>
<div class="t" style="top:364px;font-size:10.67px;line-height:13px;right:306.64px;letter-spacing:-0.04px;-webkit-text-stroke:0.15px #000;">99.253.661,11</div>
<div class="t" style="top:364px;font-size:10.67px;line-height:13px;right:207.64px;letter-spacing:-0.04px;-webkit-text-stroke:0.15px #000;">395.750,00</div>
<div class="t" style="top:364px;font-size:10.67px;line-height:13px;right:107.84px;letter-spacing:-0.04px;-webkit-text-stroke:0.15px #000;">49.614.747,64</div>
<div class="t" style="top:364px;font-size:10.67px;line-height:13px;right:8.94px;letter-spacing:-0.04px;-webkit-text-stroke:0.15px #000;">$    580.000,00</div>
<div class="t b" style="top:380px;font-size:10.0px;line-height:12px;left:29.50px;letter-spacing:0.44px;">5.EROGACIONES DE CAPITAL</div>
<div class="t" style="top:381px;font-size:10.67px;line-height:13px;right:1002.64px;letter-spacing:-0.04px;-webkit-text-stroke:0.15px #000;">3.069.496.200,00</div>
<div class="t" style="top:381px;font-size:10.67px;line-height:13px;right:901.64px;letter-spacing:-0.04px;-webkit-text-stroke:0.15px #000;">1.703.022.500,00</div>
<div class="t" style="top:381px;font-size:10.67px;line-height:13px;right:803.34px;letter-spacing:-0.04px;-webkit-text-stroke:0.15px #000;">8.340.000,00</div>
<div class="t" style="top:381px;font-size:10.67px;line-height:13px;right:704.64px;letter-spacing:-0.04px;-webkit-text-stroke:0.15px #000;">4.764.178.700,00</div>
<div class="t" style="top:381px;font-size:10.67px;line-height:13px;right:604.64px;letter-spacing:-0.04px;-webkit-text-stroke:0.15px #000;">5.251.288.131,92</div>
<div class="t" style="top:381px;font-size:10.67px;line-height:13px;right:505.84px;letter-spacing:-0.04px;-webkit-text-stroke:0.15px #000;">3.272.051.953,88</div>
<div class="t" style="top:381px;font-size:10.67px;line-height:13px;right:406.64px;letter-spacing:-0.04px;-webkit-text-stroke:0.15px #000;">3.027.288.271,06</div>
<div class="t" style="top:381px;font-size:10.67px;line-height:13px;right:306.64px;letter-spacing:-0.04px;-webkit-text-stroke:0.15px #000;">3.024.470.256,14</div>
<div class="t" style="top:381px;font-size:10.67px;line-height:13px;right:207.64px;letter-spacing:-0.04px;-webkit-text-stroke:0.15px #000;">244.763.682,82</div>
<div class="t" style="top:381px;font-size:10.67px;line-height:13px;right:107.84px;letter-spacing:-0.04px;-webkit-text-stroke:0.15px #000;">-487.109.431,92</div>
<div class="t" style="top:381px;font-size:10.67px;line-height:13px;right:8.94px;letter-spacing:-0.04px;-webkit-text-stroke:0.15px #000;">$  2.818.014,92</div>
<div class="t b" style="top:402px;font-size:10.0px;line-height:12px;left:37.50px;letter-spacing:0.44px;">5.1.INVERSION REAL</div>
<div class="t" style="top:402px;font-size:10.67px;line-height:13px;right:1002.64px;letter-spacing:-0.04px;-webkit-text-stroke:0.15px #000;">3.067.620.800,00</div>
<div class="t" style="top:402px;font-size:10.67px;line-height:13px;right:901.64px;letter-spacing:-0.04px;-webkit-text-stroke:0.15px #000;">1.700.264.500,00</div>
<div class="t" style="top:402px;font-size:10.67px;line-height:13px;right:803.34px;letter-spacing:-0.04px;-webkit-text-stroke:0.15px #000;">8.340.000,00</div>
<div class="t" style="top:402px;font-size:10.67px;line-height:13px;right:704.64px;letter-spacing:-0.04px;-webkit-text-stroke:0.15px #000;">4.759.545.300,00</div>
<div class="t" style="top:402px;font-size:10.67px;line-height:13px;right:604.64px;letter-spacing:-0.04px;-webkit-text-stroke:0.15px #000;">5.248.104.311,92</div>
<div class="t" style="top:402px;font-size:10.67px;line-height:13px;right:505.84px;letter-spacing:-0.04px;-webkit-text-stroke:0.15px #000;">3.269.809.553,88</div>
<div class="t" style="top:402px;font-size:10.67px;line-height:13px;right:406.64px;letter-spacing:-0.04px;-webkit-text-stroke:0.15px #000;">3.025.045.871,06</div>
<div class="t" style="top:402px;font-size:10.67px;line-height:13px;right:306.64px;letter-spacing:-0.04px;-webkit-text-stroke:0.15px #000;">3.022.227.856,14</div>
<div class="t" style="top:402px;font-size:10.67px;line-height:13px;right:207.64px;letter-spacing:-0.04px;-webkit-text-stroke:0.15px #000;">244.763.682,82</div>
<div class="t" style="top:402px;font-size:10.67px;line-height:13px;right:107.84px;letter-spacing:-0.04px;-webkit-text-stroke:0.15px #000;">-488.559.011,92</div>
<div class="t" style="top:402px;font-size:10.67px;line-height:13px;right:8.94px;letter-spacing:-0.04px;-webkit-text-stroke:0.15px #000;">$  2.818.014,92</div>
<div class="t b" style="top:420px;font-size:10.0px;line-height:12px;left:38.50px;letter-spacing:0.44px;">5.1.1.BIENES DE CAPITAL</div>
<div class="t" style="top:421px;font-size:10.67px;line-height:13px;right:1002.64px;letter-spacing:-0.04px;-webkit-text-stroke:0.15px #000;">563.620.800,00</div>
<div class="t" style="top:421px;font-size:10.67px;line-height:13px;right:901.64px;letter-spacing:-0.04px;-webkit-text-stroke:0.15px #000;">44.305.000,00</div>
<div class="t" style="top:421px;font-size:10.67px;line-height:13px;right:803.34px;letter-spacing:-0.04px;-webkit-text-stroke:0.15px #000;">0,00</div>
<div class="t" style="top:421px;font-size:10.67px;line-height:13px;right:704.64px;letter-spacing:-0.04px;-webkit-text-stroke:0.15px #000;">607.925.800,00</div>
<div class="t" style="top:421px;font-size:10.67px;line-height:13px;right:604.64px;letter-spacing:-0.04px;-webkit-text-stroke:0.15px #000;">186.266.706,89</div>
<div class="t" style="top:421px;font-size:10.67px;line-height:13px;right:505.84px;letter-spacing:-0.04px;-webkit-text-stroke:0.15px #000;">157.765.773,37</div>
<div class="t" style="top:421px;font-size:10.67px;line-height:13px;right:406.64px;letter-spacing:-0.04px;-webkit-text-stroke:0.15px #000;">69.481.006,47</div>
<div class="t" style="top:421px;font-size:10.67px;line-height:13px;right:306.64px;letter-spacing:-0.04px;-webkit-text-stroke:0.15px #000;">68.441.006,47</div>
<div class="t" style="top:421px;font-size:10.67px;line-height:13px;right:207.64px;letter-spacing:-0.04px;-webkit-text-stroke:0.15px #000;">88.284.766,90</div>
<div class="t" style="top:421px;font-size:10.67px;line-height:13px;right:107.84px;letter-spacing:-0.04px;-webkit-text-stroke:0.15px #000;">421.659.093,11</div>
<div class="t" style="top:421px;font-size:10.67px;line-height:13px;right:8.94px;letter-spacing:-0.04px;-webkit-text-stroke:0.15px #000;">$  1.040.000,00</div>
<div class="t b" style="top:436px;font-size:10.0px;line-height:12px;left:38.50px;letter-spacing:0.44px;">5.1.2.TRABAJOS PUBLICOS</div>
<div class="t" style="top:437px;font-size:10.67px;line-height:13px;right:1002.64px;letter-spacing:-0.04px;-webkit-text-stroke:0.15px #000;">2.504.000.000,00</div>
<div class="t" style="top:437px;font-size:10.67px;line-height:13px;right:901.64px;letter-spacing:-0.04px;-webkit-text-stroke:0.15px #000;">1.655.959.500,00</div>
<div class="t" style="top:437px;font-size:10.67px;line-height:13px;right:803.34px;letter-spacing:-0.04px;-webkit-text-stroke:0.15px #000;">8.340.000,00</div>
<div class="t" style="top:437px;font-size:10.67px;line-height:13px;right:704.64px;letter-spacing:-0.04px;-webkit-text-stroke:0.15px #000;">4.151.619.500,00</div>
<div class="t" style="top:437px;font-size:10.67px;line-height:13px;right:604.64px;letter-spacing:-0.04px;-webkit-text-stroke:0.15px #000;">5.061.837.605,03</div>
<div class="t" style="top:437px;font-size:10.67px;line-height:13px;right:505.84px;letter-spacing:-0.04px;-webkit-text-stroke:0.15px #000;">3.112.043.780,51</div>
<div class="t" style="top:437px;font-size:10.67px;line-height:13px;right:406.64px;letter-spacing:-0.04px;-webkit-text-stroke:0.15px #000;">2.955.564.864,59</div>
<div class="t" style="top:437px;font-size:10.67px;line-height:13px;right:306.64px;letter-spacing:-0.04px;-webkit-text-stroke:0.15px #000;">2.953.786.849,67</div>
<div class="t" style="top:437px;font-size:10.67px;line-height:13px;right:207.64px;letter-spacing:-0.04px;-webkit-text-stroke:0.15px #000;">156.478.915,92</div>
<div class="t" style="top:437px;font-size:10.67px;line-height:13px;right:107.84px;letter-spacing:-0.04px;-webkit-text-stroke:0.15px #000;">-910.218.105,03</div>
<div class="t" style="top:437px;font-size:10.67px;line-height:13px;right:8.94px;letter-spacing:-0.04px;-webkit-text-stroke:0.15px #000;">$  1.778.014,92</div>
<div class="t b" style="top:454px;font-size:10.0px;line-height:12px;left:37.50px;letter-spacing:0.44px;">5.2.INVERSION FINANCIEROS</div>
<div class="t" style="top:455px;font-size:10.67px;line-height:13px;right:1002.64px;letter-spacing:-0.04px;-webkit-text-stroke:0.15px #000;">0,00</div>
<div class="t" style="top:455px;font-size:10.67px;line-height:13px;right:901.64px;letter-spacing:-0.04px;-webkit-text-stroke:0.15px #000;">0,00</div>
<div class="t" style="top:455px;font-size:10.67px;line-height:13px;right:803.34px;letter-spacing:-0.04px;-webkit-text-stroke:0.15px #000;">0,00</div>
<div class="t" style="top:455px;font-size:10.67px;line-height:13px;right:704.64px;letter-spacing:-0.04px;-webkit-text-stroke:0.15px #000;">0,00</div>
<div class="t" style="top:455px;font-size:10.67px;line-height:13px;right:604.64px;letter-spacing:-0.04px;-webkit-text-stroke:0.15px #000;">0,00</div>
<div class="t" style="top:455px;font-size:10.67px;line-height:13px;right:505.84px;letter-spacing:-0.04px;-webkit-text-stroke:0.15px #000;">0,00</div>
<div class="t" style="top:455px;font-size:10.67px;line-height:13px;right:406.64px;letter-spacing:-0.04px;-webkit-text-stroke:0.15px #000;">0,00</div>
<div class="t" style="top:455px;font-size:10.67px;line-height:13px;right:306.64px;letter-spacing:-0.04px;-webkit-text-stroke:0.15px #000;">0,00</div>
<div class="t" style="top:455px;font-size:10.67px;line-height:13px;right:207.64px;letter-spacing:-0.04px;-webkit-text-stroke:0.15px #000;">0,00</div>
<div class="t" style="top:455px;font-size:10.67px;line-height:13px;right:107.84px;letter-spacing:-0.04px;-webkit-text-stroke:0.15px #000;">0,00</div>
<div class="t" style="top:455px;font-size:10.67px;line-height:13px;right:8.94px;letter-spacing:-0.04px;-webkit-text-stroke:0.15px #000;">$          0,00</div>
<div class="t b" style="top:472px;font-size:10.0px;line-height:12px;left:38.50px;letter-spacing:0.44px;">5.2.1.APORTES DE CAPITAL</div>
<div class="t" style="top:473px;font-size:10.67px;line-height:13px;right:1002.64px;letter-spacing:-0.04px;-webkit-text-stroke:0.15px #000;">0,00</div>
<div class="t" style="top:473px;font-size:10.67px;line-height:13px;right:901.64px;letter-spacing:-0.04px;-webkit-text-stroke:0.15px #000;">0,00</div>
<div class="t" style="top:473px;font-size:10.67px;line-height:13px;right:803.34px;letter-spacing:-0.04px;-webkit-text-stroke:0.15px #000;">0,00</div>
<div class="t" style="top:473px;font-size:10.67px;line-height:13px;right:704.64px;letter-spacing:-0.04px;-webkit-text-stroke:0.15px #000;">0,00</div>
<div class="t" style="top:473px;font-size:10.67px;line-height:13px;right:604.64px;letter-spacing:-0.04px;-webkit-text-stroke:0.15px #000;">0,00</div>
<div class="t" style="top:473px;font-size:10.67px;line-height:13px;right:505.84px;letter-spacing:-0.04px;-webkit-text-stroke:0.15px #000;">0,00</div>
<div class="t" style="top:473px;font-size:10.67px;line-height:13px;right:406.64px;letter-spacing:-0.04px;-webkit-text-stroke:0.15px #000;">0,00</div>
<div class="t" style="top:473px;font-size:10.67px;line-height:13px;right:306.64px;letter-spacing:-0.04px;-webkit-text-stroke:0.15px #000;">0,00</div>
<div class="t" style="top:473px;font-size:10.67px;line-height:13px;right:207.64px;letter-spacing:-0.04px;-webkit-text-stroke:0.15px #000;">0,00</div>
<div class="t" style="top:473px;font-size:10.67px;line-height:13px;right:107.84px;letter-spacing:-0.04px;-webkit-text-stroke:0.15px #000;">0,00</div>
<div class="t" style="top:473px;font-size:10.67px;line-height:13px;right:8.94px;letter-spacing:-0.04px;-webkit-text-stroke:0.15px #000;">$          0,00</div>
<div class="t b" style="top:488px;font-size:10.0px;line-height:12px;left:38.50px;letter-spacing:0.44px;">5.2.2.PRESTAMOS</div>
<div class="t" style="top:489px;font-size:10.67px;line-height:13px;right:1002.64px;letter-spacing:-0.04px;-webkit-text-stroke:0.15px #000;">0,00</div>
<div class="t" style="top:489px;font-size:10.67px;line-height:13px;right:901.64px;letter-spacing:-0.04px;-webkit-text-stroke:0.15px #000;">0,00</div>
<div class="t" style="top:489px;font-size:10.67px;line-height:13px;right:803.34px;letter-spacing:-0.04px;-webkit-text-stroke:0.15px #000;">0,00</div>
<div class="t" style="top:489px;font-size:10.67px;line-height:13px;right:704.64px;letter-spacing:-0.04px;-webkit-text-stroke:0.15px #000;">0,00</div>
<div class="t" style="top:489px;font-size:10.67px;line-height:13px;right:604.64px;letter-spacing:-0.04px;-webkit-text-stroke:0.15px #000;">0,00</div>
<div class="t" style="top:489px;font-size:10.67px;line-height:13px;right:505.84px;letter-spacing:-0.04px;-webkit-text-stroke:0.15px #000;">0,00</div>
<div class="t" style="top:489px;font-size:10.67px;line-height:13px;right:406.64px;letter-spacing:-0.04px;-webkit-text-stroke:0.15px #000;">0,00</div>
<div class="t" style="top:489px;font-size:10.67px;line-height:13px;right:306.64px;letter-spacing:-0.04px;-webkit-text-stroke:0.15px #000;">0,00</div>
<div class="t" style="top:489px;font-size:10.67px;line-height:13px;right:207.64px;letter-spacing:-0.04px;-webkit-text-stroke:0.15px #000;">0,00</div>
<div class="t" style="top:489px;font-size:10.67px;line-height:13px;right:107.84px;letter-spacing:-0.04px;-webkit-text-stroke:0.15px #000;">0,00</div>
<div class="t" style="top:489px;font-size:10.67px;line-height:13px;right:8.94px;letter-spacing:-0.04px;-webkit-text-stroke:0.15px #000;">$          0,00</div>
<div class="t b" style="top:504px;font-size:10.0px;line-height:12px;left:38.50px;letter-spacing:0.44px;">5.2.3.VALORES FINANCIEROS</div>
<div class="t" style="top:505px;font-size:10.67px;line-height:13px;right:1002.64px;letter-spacing:-0.04px;-webkit-text-stroke:0.15px #000;">0,00</div>
<div class="t" style="top:505px;font-size:10.67px;line-height:13px;right:901.64px;letter-spacing:-0.04px;-webkit-text-stroke:0.15px #000;">0,00</div>
<div class="t" style="top:505px;font-size:10.67px;line-height:13px;right:803.34px;letter-spacing:-0.04px;-webkit-text-stroke:0.15px #000;">0,00</div>
<div class="t" style="top:505px;font-size:10.67px;line-height:13px;right:704.64px;letter-spacing:-0.04px;-webkit-text-stroke:0.15px #000;">0,00</div>
<div class="t" style="top:505px;font-size:10.67px;line-height:13px;right:604.64px;letter-spacing:-0.04px;-webkit-text-stroke:0.15px #000;">0,00</div>
<div class="t" style="top:505px;font-size:10.67px;line-height:13px;right:505.84px;letter-spacing:-0.04px;-webkit-text-stroke:0.15px #000;">0,00</div>
<div class="t" style="top:505px;font-size:10.67px;line-height:13px;right:406.64px;letter-spacing:-0.04px;-webkit-text-stroke:0.15px #000;">0,00</div>
<div class="t" style="top:505px;font-size:10.67px;line-height:13px;right:306.64px;letter-spacing:-0.04px;-webkit-text-stroke:0.15px #000;">0,00</div>
<div class="t" style="top:505px;font-size:10.67px;line-height:13px;right:207.64px;letter-spacing:-0.04px;-webkit-text-stroke:0.15px #000;">0,00</div>
<div class="t" style="top:505px;font-size:10.67px;line-height:13px;right:107.84px;letter-spacing:-0.04px;-webkit-text-stroke:0.15px #000;">0,00</div>
<div class="t" style="top:505px;font-size:10.67px;line-height:13px;right:8.94px;letter-spacing:-0.04px;-webkit-text-stroke:0.15px #000;">$          0,00</div>
<div class="t b" style="top:522px;font-size:10.0px;line-height:12px;left:37.50px;letter-spacing:0.44px;">5.3.INVERSION EN BIENES</div>
<div class="t b" style="top:534px;font-size:10.0px;line-height:12px;left:37.50px;letter-spacing:0.44px;">PREEXISTENTES</div>
<div class="t" style="top:522px;font-size:10.67px;line-height:13px;right:1002.64px;letter-spacing:-0.04px;-webkit-text-stroke:0.15px #000;">1.445.000,00</div>
<div class="t" style="top:522px;font-size:10.67px;line-height:13px;right:901.64px;letter-spacing:-0.04px;-webkit-text-stroke:0.15px #000;">1.655.000,00</div>
<div class="t" style="top:522px;font-size:10.67px;line-height:13px;right:803.34px;letter-spacing:-0.04px;-webkit-text-stroke:0.15px #000;">0,00</div>
<div class="t" style="top:522px;font-size:10.67px;line-height:13px;right:704.64px;letter-spacing:-0.04px;-webkit-text-stroke:0.15px #000;">3.100.000,00</div>
<div class="t" style="top:522px;font-size:10.67px;line-height:13px;right:604.64px;letter-spacing:-0.04px;-webkit-text-stroke:0.15px #000;">1.655.000,00</div>
<div class="t" style="top:522px;font-size:10.67px;line-height:13px;right:505.84px;letter-spacing:-0.04px;-webkit-text-stroke:0.15px #000;">1.140.000,00</div>
<div class="t" style="top:522px;font-size:10.67px;line-height:13px;right:406.64px;letter-spacing:-0.04px;-webkit-text-stroke:0.15px #000;">1.140.000,00</div>
<div class="t" style="top:522px;font-size:10.67px;line-height:13px;right:306.64px;letter-spacing:-0.04px;-webkit-text-stroke:0.15px #000;">1.140.000,00</div>
<div class="t" style="top:522px;font-size:10.67px;line-height:13px;right:207.64px;letter-spacing:-0.04px;-webkit-text-stroke:0.15px #000;">0,00</div>
<div class="t" style="top:522px;font-size:10.67px;line-height:13px;right:107.84px;letter-spacing:-0.04px;-webkit-text-stroke:0.15px #000;">1.445.000,00</div>
<div class="t" style="top:522px;font-size:10.67px;line-height:13px;right:8.94px;letter-spacing:-0.04px;-webkit-text-stroke:0.15px #000;">$          0,00</div>
<div class="t b" style="top:548px;font-size:10.0px;line-height:12px;left:38.50px;letter-spacing:0.44px;">5.3.1.BIENES PREEXISTENTES</div>
<div class="t" style="top:549px;font-size:10.67px;line-height:13px;right:1002.64px;letter-spacing:-0.04px;-webkit-text-stroke:0.15px #000;">1.445.000,00</div>
<div class="t" style="top:549px;font-size:10.67px;line-height:13px;right:901.64px;letter-spacing:-0.04px;-webkit-text-stroke:0.15px #000;">1.655.000,00</div>
<div class="t" style="top:549px;font-size:10.67px;line-height:13px;right:803.34px;letter-spacing:-0.04px;-webkit-text-stroke:0.15px #000;">0,00</div>
<div class="t" style="top:549px;font-size:10.67px;line-height:13px;right:704.64px;letter-spacing:-0.04px;-webkit-text-stroke:0.15px #000;">3.100.000,00</div>
<div class="t" style="top:549px;font-size:10.67px;line-height:13px;right:604.64px;letter-spacing:-0.04px;-webkit-text-stroke:0.15px #000;">1.655.000,00</div>
<div class="t" style="top:549px;font-size:10.67px;line-height:13px;right:505.84px;letter-spacing:-0.04px;-webkit-text-stroke:0.15px #000;">1.140.000,00</div>
<div class="t" style="top:549px;font-size:10.67px;line-height:13px;right:406.64px;letter-spacing:-0.04px;-webkit-text-stroke:0.15px #000;">1.140.000,00</div>
<div class="t" style="top:549px;font-size:10.67px;line-height:13px;right:306.64px;letter-spacing:-0.04px;-webkit-text-stroke:0.15px #000;">1.140.000,00</div>
<div class="t" style="top:549px;font-size:10.67px;line-height:13px;right:207.64px;letter-spacing:-0.04px;-webkit-text-stroke:0.15px #000;">0,00</div>
<div class="t" style="top:549px;font-size:10.67px;line-height:13px;right:107.84px;letter-spacing:-0.04px;-webkit-text-stroke:0.15px #000;">1.445.000,00</div>
<div class="t" style="top:549px;font-size:10.67px;line-height:13px;right:8.94px;letter-spacing:-0.04px;-webkit-text-stroke:0.15px #000;">$          0,00</div>
<div class="t b" style="top:566px;font-size:10.0px;line-height:12px;left:37.50px;letter-spacing:0.44px;">5.4.TRANSFERENCIAS PARA</div>
<div class="t b" style="top:578px;font-size:10.0px;line-height:12px;left:37.50px;letter-spacing:0.44px;">EROGACIONES DE CAP</div>
<div class="t" style="top:566px;font-size:10.67px;line-height:13px;right:1002.64px;letter-spacing:-0.04px;-webkit-text-stroke:0.15px #000;">430.400,00</div>
<div class="t" style="top:566px;font-size:10.67px;line-height:13px;right:901.64px;letter-spacing:-0.04px;-webkit-text-stroke:0.15px #000;">1.103.000,00</div>
<div class="t" style="top:566px;font-size:10.67px;line-height:13px;right:803.34px;letter-spacing:-0.04px;-webkit-text-stroke:0.15px #000;">0,00</div>
<div class="t" style="top:566px;font-size:10.67px;line-height:13px;right:704.64px;letter-spacing:-0.04px;-webkit-text-stroke:0.15px #000;">1.533.400,00</div>
<div class="t" style="top:566px;font-size:10.67px;line-height:13px;right:604.64px;letter-spacing:-0.04px;-webkit-text-stroke:0.15px #000;">1.528.820,00</div>
<div class="t" style="top:566px;font-size:10.67px;line-height:13px;right:505.84px;letter-spacing:-0.04px;-webkit-text-stroke:0.15px #000;">1.102.400,00</div>
<div class="t" style="top:566px;font-size:10.67px;line-height:13px;right:406.64px;letter-spacing:-0.04px;-webkit-text-stroke:0.15px #000;">1.102.400,00</div>
<div class="t" style="top:566px;font-size:10.67px;line-height:13px;right:306.64px;letter-spacing:-0.04px;-webkit-text-stroke:0.15px #000;">1.102.400,00</div>
<div class="t" style="top:566px;font-size:10.67px;line-height:13px;right:207.64px;letter-spacing:-0.04px;-webkit-text-stroke:0.15px #000;">0,00</div>
<div class="t" style="top:566px;font-size:10.67px;line-height:13px;right:107.84px;letter-spacing:-0.04px;-webkit-text-stroke:0.15px #000;">4.580,00</div>
<div class="t" style="top:566px;font-size:10.67px;line-height:13px;right:8.94px;letter-spacing:-0.04px;-webkit-text-stroke:0.15px #000;">$          0,00</div>
<div class="t b" style="top:592px;font-size:10.0px;line-height:12px;left:38.50px;letter-spacing:0.44px;">5.4.1.TRANSFERENCIAS PARA</div>
<div class="t b" style="top:604px;font-size:10.0px;line-height:12px;left:38.50px;letter-spacing:0.44px;">EROGACIONES DE CAPITAL</div>
<div class="t" style="top:593px;font-size:10.67px;line-height:13px;right:1002.64px;letter-spacing:-0.04px;-webkit-text-stroke:0.15px #000;">430.400,00</div>
<div class="t" style="top:593px;font-size:10.67px;line-height:13px;right:901.64px;letter-spacing:-0.04px;-webkit-text-stroke:0.15px #000;">1.103.000,00</div>
<div class="t" style="top:593px;font-size:10.67px;line-height:13px;right:803.34px;letter-spacing:-0.04px;-webkit-text-stroke:0.15px #000;">0,00</div>
<div class="t" style="top:593px;font-size:10.67px;line-height:13px;right:704.64px;letter-spacing:-0.04px;-webkit-text-stroke:0.15px #000;">1.533.400,00</div>
<div class="t" style="top:593px;font-size:10.67px;line-height:13px;right:604.64px;letter-spacing:-0.04px;-webkit-text-stroke:0.15px #000;">1.528.820,00</div>
<div class="t" style="top:593px;font-size:10.67px;line-height:13px;right:505.84px;letter-spacing:-0.04px;-webkit-text-stroke:0.15px #000;">1.102.400,00</div>
<div class="t" style="top:593px;font-size:10.67px;line-height:13px;right:406.64px;letter-spacing:-0.04px;-webkit-text-stroke:0.15px #000;">1.102.400,00</div>
<div class="t" style="top:593px;font-size:10.67px;line-height:13px;right:306.64px;letter-spacing:-0.04px;-webkit-text-stroke:0.15px #000;">1.102.400,00</div>
<div class="t" style="top:593px;font-size:10.67px;line-height:13px;right:207.64px;letter-spacing:-0.04px;-webkit-text-stroke:0.15px #000;">0,00</div>
<div class="t" style="top:593px;font-size:10.67px;line-height:13px;right:107.84px;letter-spacing:-0.04px;-webkit-text-stroke:0.15px #000;">4.580,00</div>
<div class="t" style="top:593px;font-size:10.67px;line-height:13px;right:8.94px;letter-spacing:-0.04px;-webkit-text-stroke:0.15px #000;">$          0,00</div>
<div class="t b" style="top:618px;font-size:10.0px;line-height:12px;left:29.50px;letter-spacing:0.44px;">6.OTRAS EROGACIONES</div>
<div class="t" style="top:618px;font-size:10.67px;line-height:13px;right:1002.64px;letter-spacing:-0.04px;-webkit-text-stroke:0.15px #000;">1.869.095.700,00</div>
<div class="t" style="top:618px;font-size:10.67px;line-height:13px;right:901.64px;letter-spacing:-0.04px;-webkit-text-stroke:0.15px #000;">0,00</div>
<div class="t" style="top:618px;font-size:10.67px;line-height:13px;right:803.34px;letter-spacing:-0.04px;-webkit-text-stroke:0.15px #000;">0,00</div>
<div class="t" style="top:618px;font-size:10.67px;line-height:13px;right:704.64px;letter-spacing:-0.04px;-webkit-text-stroke:0.15px #000;">1.869.095.700,00</div>
<div class="t" style="top:618px;font-size:10.67px;line-height:13px;right:604.64px;letter-spacing:-0.04px;-webkit-text-stroke:0.15px #000;">1.237.691.445,47</div>
<div class="t" style="top:618px;font-size:10.67px;line-height:13px;right:505.84px;letter-spacing:-0.04px;-webkit-text-stroke:0.15px #000;">1.237.691.445,47</div>
<div class="t" style="top:618px;font-size:10.67px;line-height:13px;right:406.64px;letter-spacing:-0.04px;-webkit-text-stroke:0.15px #000;">1.236.540.122,69</div>
<div class="t" style="top:618px;font-size:10.67px;line-height:13px;right:306.64px;letter-spacing:-0.04px;-webkit-text-stroke:0.15px #000;">1.236.540.122,69</div>
<div class="t" style="top:618px;font-size:10.67px;line-height:13px;right:207.64px;letter-spacing:-0.04px;-webkit-text-stroke:0.15px #000;">1.151.322,78</div>
<div class="t" style="top:618px;font-size:10.67px;line-height:13px;right:107.84px;letter-spacing:-0.04px;-webkit-text-stroke:0.15px #000;">631.404.254,53</div>
<div class="t" style="top:618px;font-size:10.67px;line-height:13px;right:8.94px;letter-spacing:-0.04px;-webkit-text-stroke:0.15px #000;">$          0,00</div>
<div class="t b" style="top:639px;font-size:10.0px;line-height:12px;left:37.50px;letter-spacing:0.44px;">6.2.EROGACIONES PARA ATENDER</div>
<div class="t b" style="top:651px;font-size:10.0px;line-height:12px;left:37.50px;letter-spacing:0.44px;">DEUDA PUBLICA</div>
<div class="t" style="top:640px;font-size:10.67px;line-height:13px;right:1002.64px;letter-spacing:-0.04px;-webkit-text-stroke:0.15px #000;">1.869.095.700,00</div>
<div class="t" style="top:640px;font-size:10.67px;line-height:13px;right:901.64px;letter-spacing:-0.04px;-webkit-text-stroke:0.15px #000;">0,00</div>
<div class="t" style="top:640px;font-size:10.67px;line-height:13px;right:803.34px;letter-spacing:-0.04px;-webkit-text-stroke:0.15px #000;">0,00</div>
<div class="t" style="top:640px;font-size:10.67px;line-height:13px;right:704.64px;letter-spacing:-0.04px;-webkit-text-stroke:0.15px #000;">1.869.095.700,00</div>
<div class="t" style="top:640px;font-size:10.67px;line-height:13px;right:604.64px;letter-spacing:-0.04px;-webkit-text-stroke:0.15px #000;">1.237.691.445,47</div>
<div class="t" style="top:640px;font-size:10.67px;line-height:13px;right:505.84px;letter-spacing:-0.04px;-webkit-text-stroke:0.15px #000;">1.237.691.445,47</div>
<div class="t" style="top:640px;font-size:10.67px;line-height:13px;right:406.64px;letter-spacing:-0.04px;-webkit-text-stroke:0.15px #000;">1.236.540.122,69</div>
<div class="t" style="top:640px;font-size:10.67px;line-height:13px;right:306.64px;letter-spacing:-0.04px;-webkit-text-stroke:0.15px #000;">1.236.540.122,69</div>
<div class="t" style="top:640px;font-size:10.67px;line-height:13px;right:207.64px;letter-spacing:-0.04px;-webkit-text-stroke:0.15px #000;">1.151.322,78</div>
<div class="t" style="top:640px;font-size:10.67px;line-height:13px;right:107.84px;letter-spacing:-0.04px;-webkit-text-stroke:0.15px #000;">631.404.254,53</div>
<div class="t" style="top:640px;font-size:10.67px;line-height:13px;right:8.94px;letter-spacing:-0.04px;-webkit-text-stroke:0.15px #000;">$          0,00</div>
<div class="t b" style="top:665px;font-size:10.0px;line-height:12px;left:38.50px;letter-spacing:0.44px;">6.2.1.EROGACIONES PARA ATENDER LA</div>
<div class="t b" style="top:677px;font-size:10.0px;line-height:12px;left:38.50px;letter-spacing:0.44px;">AMORTIZACION DE LA DEUDA</div>
<div class="t b" style="top:689px;font-size:10.0px;line-height:12px;left:38.50px;letter-spacing:0.44px;">CONSOLIDADA</div>
<div class="t" style="top:666px;font-size:10.67px;line-height:13px;right:1002.64px;letter-spacing:-0.04px;-webkit-text-stroke:0.15px #000;">669.095.700,00</div>
<div class="t" style="top:666px;font-size:10.67px;line-height:13px;right:901.64px;letter-spacing:-0.04px;-webkit-text-stroke:0.15px #000;">0,00</div>
<div class="t" style="top:666px;font-size:10.67px;line-height:13px;right:803.34px;letter-spacing:-0.04px;-webkit-text-stroke:0.15px #000;">0,00</div>
<div class="t" style="top:666px;font-size:10.67px;line-height:13px;right:704.64px;letter-spacing:-0.04px;-webkit-text-stroke:0.15px #000;">669.095.700,00</div>
<div class="t" style="top:666px;font-size:10.67px;line-height:13px;right:604.64px;letter-spacing:-0.04px;-webkit-text-stroke:0.15px #000;">36.858.243,64</div>
<div class="t" style="top:666px;font-size:10.67px;line-height:13px;right:505.84px;letter-spacing:-0.04px;-webkit-text-stroke:0.15px #000;">36.858.243,64</div>
<div class="t" style="top:666px;font-size:10.67px;line-height:13px;right:406.64px;letter-spacing:-0.04px;-webkit-text-stroke:0.15px #000;">36.858.243,64</div>
<div class="t" style="top:666px;font-size:10.67px;line-height:13px;right:306.64px;letter-spacing:-0.04px;-webkit-text-stroke:0.15px #000;">36.858.243,64</div>
<div class="t" style="top:666px;font-size:10.67px;line-height:13px;right:207.64px;letter-spacing:-0.04px;-webkit-text-stroke:0.15px #000;">0,00</div>
<div class="t" style="top:666px;font-size:10.67px;line-height:13px;right:107.84px;letter-spacing:-0.04px;-webkit-text-stroke:0.15px #000;">632.237.456,36</div>
<div class="t" style="top:666px;font-size:10.67px;line-height:13px;right:8.94px;letter-spacing:-0.04px;-webkit-text-stroke:0.15px #000;">$          0,00</div>
<div class="t b" style="top:701px;font-size:10.0px;line-height:12px;left:38.50px;letter-spacing:0.44px;">6.2.2.EROGACIONES PARA ATENDER LA</div>
<div class="t b" style="top:713px;font-size:10.0px;line-height:12px;left:38.50px;letter-spacing:0.44px;">AMORTIZACION DE LA DEUDA</div>
<div class="t b" style="top:725px;font-size:10.0px;line-height:12px;left:38.50px;letter-spacing:0.44px;">FLOTANTE</div>
<div class="t" style="top:702px;font-size:10.67px;line-height:13px;right:1002.64px;letter-spacing:-0.04px;-webkit-text-stroke:0.15px #000;">1.200.000.000,00</div>
<div class="t" style="top:702px;font-size:10.67px;line-height:13px;right:901.64px;letter-spacing:-0.04px;-webkit-text-stroke:0.15px #000;">0,00</div>
<div class="t" style="top:702px;font-size:10.67px;line-height:13px;right:803.34px;letter-spacing:-0.04px;-webkit-text-stroke:0.15px #000;">0,00</div>
<div class="t" style="top:702px;font-size:10.67px;line-height:13px;right:704.64px;letter-spacing:-0.04px;-webkit-text-stroke:0.15px #000;">1.200.000.000,00</div>
<div class="t" style="top:702px;font-size:10.67px;line-height:13px;right:604.64px;letter-spacing:-0.04px;-webkit-text-stroke:0.15px #000;">1.200.833.201,83</div>
<div class="t" style="top:702px;font-size:10.67px;line-height:13px;right:505.84px;letter-spacing:-0.04px;-webkit-text-stroke:0.15px #000;">1.200.833.201,83</div>
<div class="t" style="top:702px;font-size:10.67px;line-height:13px;right:406.64px;letter-spacing:-0.04px;-webkit-text-stroke:0.15px #000;">1.199.681.879,05</div>
<div class="t" style="top:702px;font-size:10.67px;line-height:13px;right:306.64px;letter-spacing:-0.04px;-webkit-text-stroke:0.15px #000;">1.199.681.879,05</div>
<div class="t" style="top:702px;font-size:10.67px;line-height:13px;right:207.64px;letter-spacing:-0.04px;-webkit-text-stroke:0.15px #000;">1.151.322,78</div>
<div class="t" style="top:702px;font-size:10.67px;line-height:13px;right:111.14px;letter-spacing:-0.04px;-webkit-text-stroke:0.15px #000;">-833.201,83</div>
<div class="t" style="top:702px;font-size:10.67px;line-height:13px;right:8.94px;letter-spacing:-0.04px;-webkit-text-stroke:0.15px #000;">$          0,00</div>
<div class="t b" style="top:738px;font-size:10.0px;line-height:12px;left:38.50px;letter-spacing:0.44px;">6. .3.EROGACIONES PARA ATENDER</div>
<div class="t b" style="top:750px;font-size:10.0px;line-height:12px;left:38.50px;letter-spacing:0.44px;">ADELANTOS A PROVEEDORES Y</div>
<div class="t b" style="top:762px;font-size:10.0px;line-height:12px;left:38.50px;letter-spacing:0.44px;">CONTRATISTAS</div>
<div class="t" style="top:739px;font-size:10.67px;line-height:13px;right:1002.64px;letter-spacing:-0.04px;-webkit-text-stroke:0.15px #000;">0,00</div>
<div class="t" style="top:739px;font-size:10.67px;line-height:13px;right:901.64px;letter-spacing:-0.04px;-webkit-text-stroke:0.15px #000;">0,00</div>
<div class="t" style="top:739px;font-size:10.67px;line-height:13px;right:803.34px;letter-spacing:-0.04px;-webkit-text-stroke:0.15px #000;">0,00</div>
<div class="t" style="top:739px;font-size:10.67px;line-height:13px;right:704.64px;letter-spacing:-0.04px;-webkit-text-stroke:0.15px #000;">0,00</div>
<div class="t" style="top:739px;font-size:10.67px;line-height:13px;right:604.64px;letter-spacing:-0.04px;-webkit-text-stroke:0.15px #000;">0,00</div>
<div class="t" style="top:739px;font-size:10.67px;line-height:13px;right:505.84px;letter-spacing:-0.04px;-webkit-text-stroke:0.15px #000;">0,00</div>
<div class="t" style="top:739px;font-size:10.67px;line-height:13px;right:406.64px;letter-spacing:-0.04px;-webkit-text-stroke:0.15px #000;">0,00</div>
<div class="t" style="top:739px;font-size:10.67px;line-height:13px;right:306.64px;letter-spacing:-0.04px;-webkit-text-stroke:0.15px #000;">0,00</div>
<div class="t" style="top:739px;font-size:10.67px;line-height:13px;right:207.64px;letter-spacing:-0.04px;-webkit-text-stroke:0.15px #000;">0,00</div>
<div class="t" style="top:739px;font-size:10.67px;line-height:13px;right:107.84px;letter-spacing:-0.04px;-webkit-text-stroke:0.15px #000;">0,00</div>
<div class="t" style="top:739px;font-size:10.67px;line-height:13px;right:8.94px;letter-spacing:-0.04px;-webkit-text-stroke:0.15px #000;">$          0,00</div>
<div class="t b" style="top:775px;font-size:10.0px;line-height:12px;left:27.00px;letter-spacing:0.44px;">TOTALES:</div>
<div class="t" style="top:776px;font-size:10.67px;line-height:13px;right:1002.64px;letter-spacing:-0.04px;-webkit-text-stroke:0.15px #000;">36.840.993.700,00</div>
<div class="t" style="top:776px;font-size:10.67px;line-height:13px;right:901.64px;letter-spacing:-0.04px;-webkit-text-stroke:0.15px #000;">6.874.975.900,00</div>
<div class="t" style="top:776px;font-size:10.67px;line-height:13px;right:803.34px;letter-spacing:-0.04px;-webkit-text-stroke:0.15px #000;">896.205.000,00</div>
<div class="t" style="top:776px;font-size:10.67px;line-height:13px;right:695.14px;letter-spacing:-0.04px;-webkit-text-stroke:0.15px #000;">42.819.764.600,00</div>
<div class="t" style="top:776px;font-size:10.67px;line-height:13px;right:603.64px;letter-spacing:-0.04px;-webkit-text-stroke:0.15px #000;">40.007.018.562,45</div>
<div class="t" style="top:776px;font-size:10.67px;line-height:13px;right:505.14px;letter-spacing:-0.04px;-webkit-text-stroke:0.15px #000;">31.855.895.752,62</div>
<div class="t" style="top:776px;font-size:10.67px;line-height:13px;right:406.64px;letter-spacing:-0.04px;-webkit-text-stroke:0.15px #000;">31.420.003.277,31</div>
<div class="t" style="top:776px;font-size:10.67px;line-height:13px;right:306.14px;letter-spacing:-0.04px;-webkit-text-stroke:0.15px #000;">31.316.635.354,13</div>
<div class="t" style="top:776px;font-size:10.67px;line-height:13px;right:208.64px;letter-spacing:-0.04px;-webkit-text-stroke:0.15px #000;">435.892.475,31</div>
<div class="t" style="top:776px;font-size:10.67px;line-height:13px;right:107.14px;letter-spacing:-0.04px;-webkit-text-stroke:0.15px #000;">2.812.746.037,55</div>
<div class="t" style="top:776px;font-size:10.67px;line-height:13px;right:7.64px;letter-spacing:-0.04px;-webkit-text-stroke:0.15px #000;">$103.367.923,18</div>
</div></body></html>
